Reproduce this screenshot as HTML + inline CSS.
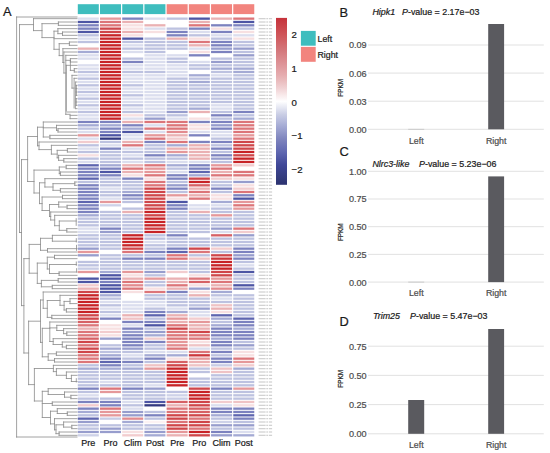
<!DOCTYPE html>
<html><head><meta charset="utf-8"><style>
html,body{margin:0;padding:0;background:#fff;}
body{width:550px;height:453px;overflow:hidden;font-family:"Liberation Sans", sans-serif;}
svg{display:block;}
</style></head><body>
<svg width="550" height="453" viewBox="0 0 550 453" font-family='"Liberation Sans", sans-serif'>
<defs><linearGradient id="cb" x1="0" y1="0" x2="0" y2="1"><stop offset="0.000" stop-color="#c6323a"/><stop offset="0.020" stop-color="#c73941"/><stop offset="0.040" stop-color="#c94047"/><stop offset="0.060" stop-color="#cb474d"/><stop offset="0.080" stop-color="#cd4e53"/><stop offset="0.100" stop-color="#cf5559"/><stop offset="0.120" stop-color="#d05c60"/><stop offset="0.140" stop-color="#d16367"/><stop offset="0.160" stop-color="#d26b6f"/><stop offset="0.180" stop-color="#d37276"/><stop offset="0.200" stop-color="#d4797d"/><stop offset="0.220" stop-color="#d78084"/><stop offset="0.240" stop-color="#d9878b"/><stop offset="0.260" stop-color="#dc8e92"/><stop offset="0.280" stop-color="#de9599"/><stop offset="0.300" stop-color="#e09ca0"/><stop offset="0.320" stop-color="#e3a4a7"/><stop offset="0.340" stop-color="#e5abae"/><stop offset="0.360" stop-color="#e7b4b6"/><stop offset="0.380" stop-color="#eabdbf"/><stop offset="0.400" stop-color="#edc7c9"/><stop offset="0.420" stop-color="#f0d1d3"/><stop offset="0.440" stop-color="#f4dcde"/><stop offset="0.460" stop-color="#f8e8e9"/><stop offset="0.480" stop-color="#fbf3f4"/><stop offset="0.500" stop-color="#ffffff"/><stop offset="0.520" stop-color="#f1f2f8"/><stop offset="0.540" stop-color="#e4e6f2"/><stop offset="0.560" stop-color="#d6d9eb"/><stop offset="0.580" stop-color="#c9cde4"/><stop offset="0.600" stop-color="#bec3e0"/><stop offset="0.620" stop-color="#b4b9db"/><stop offset="0.640" stop-color="#a9afd6"/><stop offset="0.660" stop-color="#9fa5d1"/><stop offset="0.680" stop-color="#959bcb"/><stop offset="0.700" stop-color="#8b91c5"/><stop offset="0.720" stop-color="#8187bf"/><stop offset="0.740" stop-color="#797fbb"/><stop offset="0.760" stop-color="#7178b8"/><stop offset="0.780" stop-color="#6970b5"/><stop offset="0.800" stop-color="#6169b1"/><stop offset="0.820" stop-color="#5961ac"/><stop offset="0.840" stop-color="#5159a5"/><stop offset="0.860" stop-color="#48509e"/><stop offset="0.880" stop-color="#404898"/><stop offset="0.900" stop-color="#3c4491"/><stop offset="0.920" stop-color="#394189"/><stop offset="0.940" stop-color="#363e82"/><stop offset="0.960" stop-color="#333b7b"/><stop offset="0.980" stop-color="#2f3675"/><stop offset="1.000" stop-color="#2c3270"/></linearGradient></defs>
<rect width="550" height="453" fill="#fff"/>
<g><rect x="77.80" y="4.2" width="21.00" height="9.9" fill="#3ebdbe"/><rect x="100.01" y="4.2" width="21.00" height="9.9" fill="#3ebdbe"/><rect x="122.22" y="4.2" width="21.00" height="9.9" fill="#3ebdbe"/><rect x="144.43" y="4.2" width="21.00" height="9.9" fill="#3ebdbe"/><rect x="166.64" y="4.2" width="21.00" height="9.9" fill="#f2847e"/><rect x="188.85" y="4.2" width="21.00" height="9.9" fill="#f2847e"/><rect x="211.06" y="4.2" width="21.00" height="9.9" fill="#f2847e"/><rect x="233.27" y="4.2" width="21.00" height="9.9" fill="#f2847e"/></g>
<g><rect x="77.80" y="17.50" width="21.00" height="2.30" fill="#dbdeee"/><rect x="100.01" y="17.50" width="21.00" height="2.30" fill="#e5989a"/><rect x="122.22" y="17.50" width="21.00" height="2.30" fill="#7c82bf"/><rect x="144.43" y="17.50" width="21.00" height="2.30" fill="#dbdeee"/><rect x="166.64" y="17.50" width="21.00" height="2.30" fill="#bdc2e0"/><rect x="188.85" y="17.50" width="21.00" height="2.30" fill="#4d55a4"/><rect x="211.06" y="17.50" width="21.00" height="2.30" fill="#eab1b3"/><rect x="233.27" y="17.50" width="21.00" height="2.30" fill="#dc7579"/><rect x="77.80" y="20.83" width="21.00" height="2.30" fill="#4d55a4"/><rect x="100.01" y="20.83" width="21.00" height="2.30" fill="#dc7579"/><rect x="122.22" y="20.83" width="21.00" height="2.30" fill="#eab1b3"/><rect x="144.43" y="20.83" width="21.00" height="2.30" fill="#ffffff"/><rect x="166.64" y="20.83" width="21.00" height="2.30" fill="#ffffff"/><rect x="188.85" y="20.83" width="21.00" height="2.30" fill="#eab1b3"/><rect x="211.06" y="20.83" width="21.00" height="2.30" fill="#ffffff"/><rect x="233.27" y="20.83" width="21.00" height="2.30" fill="#4d55a4"/><rect x="77.80" y="24.17" width="21.00" height="2.30" fill="#7c82bf"/><rect x="100.01" y="24.17" width="21.00" height="2.30" fill="#dc7579"/><rect x="122.22" y="24.17" width="21.00" height="2.30" fill="#f7e0e1"/><rect x="144.43" y="24.17" width="21.00" height="2.30" fill="#eab1b3"/><rect x="166.64" y="24.17" width="21.00" height="2.30" fill="#ffffff"/><rect x="188.85" y="24.17" width="21.00" height="2.30" fill="#dc7579"/><rect x="211.06" y="24.17" width="21.00" height="2.30" fill="#7c82bf"/><rect x="233.27" y="24.17" width="21.00" height="2.30" fill="#7c82bf"/><rect x="77.80" y="27.50" width="21.00" height="2.30" fill="#7c82bf"/><rect x="100.01" y="27.50" width="21.00" height="2.30" fill="#cf464a"/><rect x="122.22" y="27.50" width="21.00" height="2.30" fill="#f7e0e1"/><rect x="144.43" y="27.50" width="21.00" height="2.30" fill="#dbdeee"/><rect x="166.64" y="27.50" width="21.00" height="2.30" fill="#bdc2e0"/><rect x="188.85" y="27.50" width="21.00" height="2.30" fill="#7c82bf"/><rect x="211.06" y="27.50" width="21.00" height="2.30" fill="#f7e0e1"/><rect x="233.27" y="27.50" width="21.00" height="2.30" fill="#bdc2e0"/><rect x="77.80" y="30.83" width="21.00" height="2.30" fill="#4d55a4"/><rect x="100.01" y="30.83" width="21.00" height="2.30" fill="#cf464a"/><rect x="122.22" y="30.83" width="21.00" height="2.30" fill="#eab1b3"/><rect x="144.43" y="30.83" width="21.00" height="2.30" fill="#f7e0e1"/><rect x="166.64" y="30.83" width="21.00" height="2.30" fill="#7c82bf"/><rect x="188.85" y="30.83" width="21.00" height="2.30" fill="#dbdeee"/><rect x="211.06" y="30.83" width="21.00" height="2.30" fill="#7c82bf"/><rect x="233.27" y="30.83" width="21.00" height="2.30" fill="#f7e0e1"/><rect x="77.80" y="34.17" width="21.00" height="2.30" fill="#bdc2e0"/><rect x="100.01" y="34.17" width="21.00" height="2.30" fill="#c72327"/><rect x="122.22" y="34.17" width="21.00" height="2.30" fill="#f7e0e1"/><rect x="144.43" y="34.17" width="21.00" height="2.30" fill="#ffffff"/><rect x="166.64" y="34.17" width="21.00" height="2.30" fill="#7c82bf"/><rect x="188.85" y="34.17" width="21.00" height="2.30" fill="#bdc2e0"/><rect x="211.06" y="34.17" width="21.00" height="2.30" fill="#dbdeee"/><rect x="233.27" y="34.17" width="21.00" height="2.30" fill="#dbdeee"/><rect x="77.80" y="37.50" width="21.00" height="2.30" fill="#dbdeee"/><rect x="100.01" y="37.50" width="21.00" height="2.30" fill="#c72327"/><rect x="122.22" y="37.50" width="21.00" height="2.30" fill="#4d55a4"/><rect x="144.43" y="37.50" width="21.00" height="2.30" fill="#bdc2e0"/><rect x="166.64" y="37.50" width="21.00" height="2.30" fill="#eab1b3"/><rect x="188.85" y="37.50" width="21.00" height="2.30" fill="#f7e0e1"/><rect x="211.06" y="37.50" width="21.00" height="2.30" fill="#bdc2e0"/><rect x="233.27" y="37.50" width="21.00" height="2.30" fill="#f7e0e1"/><rect x="77.80" y="40.83" width="21.00" height="2.30" fill="#bdc2e0"/><rect x="100.01" y="40.83" width="21.00" height="2.30" fill="#c72327"/><rect x="122.22" y="40.83" width="21.00" height="2.30" fill="#bdc2e0"/><rect x="144.43" y="40.83" width="21.00" height="2.30" fill="#bdc2e0"/><rect x="166.64" y="40.83" width="21.00" height="2.30" fill="#bdc2e0"/><rect x="188.85" y="40.83" width="21.00" height="2.30" fill="#dc7579"/><rect x="211.06" y="40.83" width="21.00" height="2.30" fill="#7c82bf"/><rect x="233.27" y="40.83" width="21.00" height="2.30" fill="#bdc2e0"/><rect x="77.80" y="44.17" width="21.00" height="2.30" fill="#ffffff"/><rect x="100.01" y="44.17" width="21.00" height="2.30" fill="#c72327"/><rect x="122.22" y="44.17" width="21.00" height="2.30" fill="#dbdeee"/><rect x="144.43" y="44.17" width="21.00" height="2.30" fill="#bdc2e0"/><rect x="166.64" y="44.17" width="21.00" height="2.30" fill="#bdc2e0"/><rect x="188.85" y="44.17" width="21.00" height="2.30" fill="#eab1b3"/><rect x="211.06" y="44.17" width="21.00" height="2.30" fill="#7c82bf"/><rect x="233.27" y="44.17" width="21.00" height="2.30" fill="#bdc2e0"/><rect x="77.80" y="47.50" width="21.00" height="2.30" fill="#eab1b3"/><rect x="100.01" y="47.50" width="21.00" height="2.30" fill="#c72327"/><rect x="122.22" y="47.50" width="21.00" height="2.30" fill="#bdc2e0"/><rect x="144.43" y="47.50" width="21.00" height="2.30" fill="#bdc2e0"/><rect x="166.64" y="47.50" width="21.00" height="2.30" fill="#bdc2e0"/><rect x="188.85" y="47.50" width="21.00" height="2.30" fill="#dbdeee"/><rect x="211.06" y="47.50" width="21.00" height="2.30" fill="#979dcd"/><rect x="233.27" y="47.50" width="21.00" height="2.30" fill="#979dcd"/><rect x="77.80" y="50.83" width="21.00" height="2.30" fill="#a4aad4"/><rect x="100.01" y="50.83" width="21.00" height="2.30" fill="#c72327"/><rect x="122.22" y="50.83" width="21.00" height="2.30" fill="#dbdeee"/><rect x="144.43" y="50.83" width="21.00" height="2.30" fill="#bdc2e0"/><rect x="166.64" y="50.83" width="21.00" height="2.30" fill="#ffffff"/><rect x="188.85" y="50.83" width="21.00" height="2.30" fill="#f7e0e1"/><rect x="211.06" y="50.83" width="21.00" height="2.30" fill="#7c82bf"/><rect x="233.27" y="50.83" width="21.00" height="2.30" fill="#bdc2e0"/><rect x="77.80" y="54.17" width="21.00" height="2.30" fill="#dbdeee"/><rect x="100.01" y="54.17" width="21.00" height="2.30" fill="#c72327"/><rect x="122.22" y="54.17" width="21.00" height="2.30" fill="#ffffff"/><rect x="144.43" y="54.17" width="21.00" height="2.30" fill="#dbdeee"/><rect x="166.64" y="54.17" width="21.00" height="2.30" fill="#dbdeee"/><rect x="188.85" y="54.17" width="21.00" height="2.30" fill="#7c82bf"/><rect x="211.06" y="54.17" width="21.00" height="2.30" fill="#ffffff"/><rect x="233.27" y="54.17" width="21.00" height="2.30" fill="#979dcd"/><rect x="77.80" y="57.50" width="21.00" height="2.30" fill="#dbdeee"/><rect x="100.01" y="57.50" width="21.00" height="2.30" fill="#c72327"/><rect x="122.22" y="57.50" width="21.00" height="2.30" fill="#bdc2e0"/><rect x="144.43" y="57.50" width="21.00" height="2.30" fill="#dbdeee"/><rect x="166.64" y="57.50" width="21.00" height="2.30" fill="#bdc2e0"/><rect x="188.85" y="57.50" width="21.00" height="2.30" fill="#ffffff"/><rect x="211.06" y="57.50" width="21.00" height="2.30" fill="#bdc2e0"/><rect x="233.27" y="57.50" width="21.00" height="2.30" fill="#bdc2e0"/><rect x="77.80" y="60.83" width="21.00" height="2.30" fill="#ffffff"/><rect x="100.01" y="60.83" width="21.00" height="2.30" fill="#c72327"/><rect x="122.22" y="60.83" width="21.00" height="2.30" fill="#7c82bf"/><rect x="144.43" y="60.83" width="21.00" height="2.30" fill="#dbdeee"/><rect x="166.64" y="60.83" width="21.00" height="2.30" fill="#bdc2e0"/><rect x="188.85" y="60.83" width="21.00" height="2.30" fill="#dbdeee"/><rect x="211.06" y="60.83" width="21.00" height="2.30" fill="#979dcd"/><rect x="233.27" y="60.83" width="21.00" height="2.30" fill="#bdc2e0"/><rect x="77.80" y="64.17" width="21.00" height="2.30" fill="#dbdeee"/><rect x="100.01" y="64.17" width="21.00" height="2.30" fill="#c72327"/><rect x="122.22" y="64.17" width="21.00" height="2.30" fill="#dbdeee"/><rect x="144.43" y="64.17" width="21.00" height="2.30" fill="#dbdeee"/><rect x="166.64" y="64.17" width="21.00" height="2.30" fill="#dbdeee"/><rect x="188.85" y="64.17" width="21.00" height="2.30" fill="#bdc2e0"/><rect x="211.06" y="64.17" width="21.00" height="2.30" fill="#bdc2e0"/><rect x="233.27" y="64.17" width="21.00" height="2.30" fill="#bdc2e0"/><rect x="77.80" y="67.50" width="21.00" height="2.30" fill="#dbdeee"/><rect x="100.01" y="67.50" width="21.00" height="2.30" fill="#c72327"/><rect x="122.22" y="67.50" width="21.00" height="2.30" fill="#dbdeee"/><rect x="144.43" y="67.50" width="21.00" height="2.30" fill="#dbdeee"/><rect x="166.64" y="67.50" width="21.00" height="2.30" fill="#dbdeee"/><rect x="188.85" y="67.50" width="21.00" height="2.30" fill="#bdc2e0"/><rect x="211.06" y="67.50" width="21.00" height="2.30" fill="#a4aad4"/><rect x="233.27" y="67.50" width="21.00" height="2.30" fill="#a4aad4"/><rect x="77.80" y="70.83" width="21.00" height="2.30" fill="#bdc2e0"/><rect x="100.01" y="70.83" width="21.00" height="2.30" fill="#c72327"/><rect x="122.22" y="70.83" width="21.00" height="2.30" fill="#bdc2e0"/><rect x="144.43" y="70.83" width="21.00" height="2.30" fill="#bdc2e0"/><rect x="166.64" y="70.83" width="21.00" height="2.30" fill="#dbdeee"/><rect x="188.85" y="70.83" width="21.00" height="2.30" fill="#ffffff"/><rect x="211.06" y="70.83" width="21.00" height="2.30" fill="#bdc2e0"/><rect x="233.27" y="70.83" width="21.00" height="2.30" fill="#a4aad4"/><rect x="77.80" y="74.17" width="21.00" height="2.30" fill="#dbdeee"/><rect x="100.01" y="74.17" width="21.00" height="2.30" fill="#c72327"/><rect x="122.22" y="74.17" width="21.00" height="2.30" fill="#dbdeee"/><rect x="144.43" y="74.17" width="21.00" height="2.30" fill="#dbdeee"/><rect x="166.64" y="74.17" width="21.00" height="2.30" fill="#dbdeee"/><rect x="188.85" y="74.17" width="21.00" height="2.30" fill="#a4aad4"/><rect x="211.06" y="74.17" width="21.00" height="2.30" fill="#dbdeee"/><rect x="233.27" y="74.17" width="21.00" height="2.30" fill="#bdc2e0"/><rect x="77.80" y="77.50" width="21.00" height="2.30" fill="#bdc2e0"/><rect x="100.01" y="77.50" width="21.00" height="2.30" fill="#c72327"/><rect x="122.22" y="77.50" width="21.00" height="2.30" fill="#dbdeee"/><rect x="144.43" y="77.50" width="21.00" height="2.30" fill="#dbdeee"/><rect x="166.64" y="77.50" width="21.00" height="2.30" fill="#bdc2e0"/><rect x="188.85" y="77.50" width="21.00" height="2.30" fill="#bdc2e0"/><rect x="211.06" y="77.50" width="21.00" height="2.30" fill="#bdc2e0"/><rect x="233.27" y="77.50" width="21.00" height="2.30" fill="#bdc2e0"/><rect x="77.80" y="80.83" width="21.00" height="2.30" fill="#dbdeee"/><rect x="100.01" y="80.83" width="21.00" height="2.30" fill="#c72327"/><rect x="122.22" y="80.83" width="21.00" height="2.30" fill="#dbdeee"/><rect x="144.43" y="80.83" width="21.00" height="2.30" fill="#dbdeee"/><rect x="166.64" y="80.83" width="21.00" height="2.30" fill="#bdc2e0"/><rect x="188.85" y="80.83" width="21.00" height="2.30" fill="#a4aad4"/><rect x="211.06" y="80.83" width="21.00" height="2.30" fill="#bdc2e0"/><rect x="233.27" y="80.83" width="21.00" height="2.30" fill="#bdc2e0"/><rect x="77.80" y="84.17" width="21.00" height="2.30" fill="#bdc2e0"/><rect x="100.01" y="84.17" width="21.00" height="2.30" fill="#c72327"/><rect x="122.22" y="84.17" width="21.00" height="2.30" fill="#bdc2e0"/><rect x="144.43" y="84.17" width="21.00" height="2.30" fill="#dbdeee"/><rect x="166.64" y="84.17" width="21.00" height="2.30" fill="#bdc2e0"/><rect x="188.85" y="84.17" width="21.00" height="2.30" fill="#bdc2e0"/><rect x="211.06" y="84.17" width="21.00" height="2.30" fill="#bdc2e0"/><rect x="233.27" y="84.17" width="21.00" height="2.30" fill="#bdc2e0"/><rect x="77.80" y="87.50" width="21.00" height="2.30" fill="#dbdeee"/><rect x="100.01" y="87.50" width="21.00" height="2.30" fill="#c72327"/><rect x="122.22" y="87.50" width="21.00" height="2.30" fill="#dbdeee"/><rect x="144.43" y="87.50" width="21.00" height="2.30" fill="#dbdeee"/><rect x="166.64" y="87.50" width="21.00" height="2.30" fill="#bdc2e0"/><rect x="188.85" y="87.50" width="21.00" height="2.30" fill="#bdc2e0"/><rect x="211.06" y="87.50" width="21.00" height="2.30" fill="#bdc2e0"/><rect x="233.27" y="87.50" width="21.00" height="2.30" fill="#bdc2e0"/><rect x="77.80" y="90.83" width="21.00" height="2.30" fill="#bdc2e0"/><rect x="100.01" y="90.83" width="21.00" height="2.30" fill="#c72327"/><rect x="122.22" y="90.83" width="21.00" height="2.30" fill="#dbdeee"/><rect x="144.43" y="90.83" width="21.00" height="2.30" fill="#dbdeee"/><rect x="166.64" y="90.83" width="21.00" height="2.30" fill="#bdc2e0"/><rect x="188.85" y="90.83" width="21.00" height="2.30" fill="#bdc2e0"/><rect x="211.06" y="90.83" width="21.00" height="2.30" fill="#bdc2e0"/><rect x="233.27" y="90.83" width="21.00" height="2.30" fill="#bdc2e0"/><rect x="77.80" y="94.17" width="21.00" height="2.30" fill="#dbdeee"/><rect x="100.01" y="94.17" width="21.00" height="2.30" fill="#c72327"/><rect x="122.22" y="94.17" width="21.00" height="2.30" fill="#bdc2e0"/><rect x="144.43" y="94.17" width="21.00" height="2.30" fill="#dbdeee"/><rect x="166.64" y="94.17" width="21.00" height="2.30" fill="#bdc2e0"/><rect x="188.85" y="94.17" width="21.00" height="2.30" fill="#bdc2e0"/><rect x="211.06" y="94.17" width="21.00" height="2.30" fill="#bdc2e0"/><rect x="233.27" y="94.17" width="21.00" height="2.30" fill="#bdc2e0"/><rect x="77.80" y="97.50" width="21.00" height="2.30" fill="#bdc2e0"/><rect x="100.01" y="97.50" width="21.00" height="2.30" fill="#c72327"/><rect x="122.22" y="97.50" width="21.00" height="2.30" fill="#dbdeee"/><rect x="144.43" y="97.50" width="21.00" height="2.30" fill="#dbdeee"/><rect x="166.64" y="97.50" width="21.00" height="2.30" fill="#bdc2e0"/><rect x="188.85" y="97.50" width="21.00" height="2.30" fill="#bdc2e0"/><rect x="211.06" y="97.50" width="21.00" height="2.30" fill="#bdc2e0"/><rect x="233.27" y="97.50" width="21.00" height="2.30" fill="#bdc2e0"/><rect x="77.80" y="100.83" width="21.00" height="2.30" fill="#dbdeee"/><rect x="100.01" y="100.83" width="21.00" height="2.30" fill="#c72327"/><rect x="122.22" y="100.83" width="21.00" height="2.30" fill="#dbdeee"/><rect x="144.43" y="100.83" width="21.00" height="2.30" fill="#dbdeee"/><rect x="166.64" y="100.83" width="21.00" height="2.30" fill="#bdc2e0"/><rect x="188.85" y="100.83" width="21.00" height="2.30" fill="#bdc2e0"/><rect x="211.06" y="100.83" width="21.00" height="2.30" fill="#bdc2e0"/><rect x="233.27" y="100.83" width="21.00" height="2.30" fill="#bdc2e0"/><rect x="77.80" y="104.17" width="21.00" height="2.30" fill="#bdc2e0"/><rect x="100.01" y="104.17" width="21.00" height="2.30" fill="#c72327"/><rect x="122.22" y="104.17" width="21.00" height="2.30" fill="#bdc2e0"/><rect x="144.43" y="104.17" width="21.00" height="2.30" fill="#dbdeee"/><rect x="166.64" y="104.17" width="21.00" height="2.30" fill="#bdc2e0"/><rect x="188.85" y="104.17" width="21.00" height="2.30" fill="#bdc2e0"/><rect x="211.06" y="104.17" width="21.00" height="2.30" fill="#dbdeee"/><rect x="233.27" y="104.17" width="21.00" height="2.30" fill="#bdc2e0"/><rect x="77.80" y="107.50" width="21.00" height="2.30" fill="#dbdeee"/><rect x="100.01" y="107.50" width="21.00" height="2.30" fill="#c72327"/><rect x="122.22" y="107.50" width="21.00" height="2.30" fill="#dbdeee"/><rect x="144.43" y="107.50" width="21.00" height="2.30" fill="#dbdeee"/><rect x="166.64" y="107.50" width="21.00" height="2.30" fill="#bdc2e0"/><rect x="188.85" y="107.50" width="21.00" height="2.30" fill="#a4aad4"/><rect x="211.06" y="107.50" width="21.00" height="2.30" fill="#dbdeee"/><rect x="233.27" y="107.50" width="21.00" height="2.30" fill="#bdc2e0"/><rect x="77.80" y="110.83" width="21.00" height="2.30" fill="#bdc2e0"/><rect x="100.01" y="110.83" width="21.00" height="2.30" fill="#c72327"/><rect x="122.22" y="110.83" width="21.00" height="2.30" fill="#bdc2e0"/><rect x="144.43" y="110.83" width="21.00" height="2.30" fill="#dbdeee"/><rect x="166.64" y="110.83" width="21.00" height="2.30" fill="#979dcd"/><rect x="188.85" y="110.83" width="21.00" height="2.30" fill="#eab1b3"/><rect x="211.06" y="110.83" width="21.00" height="2.30" fill="#bdc2e0"/><rect x="233.27" y="110.83" width="21.00" height="2.30" fill="#7c82bf"/><rect x="77.80" y="114.17" width="21.00" height="2.30" fill="#dbdeee"/><rect x="100.01" y="114.17" width="21.00" height="2.30" fill="#c72327"/><rect x="122.22" y="114.17" width="21.00" height="2.30" fill="#f7e0e1"/><rect x="144.43" y="114.17" width="21.00" height="2.30" fill="#bdc2e0"/><rect x="166.64" y="114.17" width="21.00" height="2.30" fill="#bdc2e0"/><rect x="188.85" y="114.17" width="21.00" height="2.30" fill="#ffffff"/><rect x="211.06" y="114.17" width="21.00" height="2.30" fill="#7c82bf"/><rect x="233.27" y="114.17" width="21.00" height="2.30" fill="#bdc2e0"/><rect x="77.80" y="117.50" width="21.00" height="2.30" fill="#dbdeee"/><rect x="100.01" y="117.50" width="21.00" height="2.30" fill="#c72327"/><rect x="122.22" y="117.50" width="21.00" height="2.30" fill="#dbdeee"/><rect x="144.43" y="117.50" width="21.00" height="2.30" fill="#979dcd"/><rect x="166.64" y="117.50" width="21.00" height="2.30" fill="#dbdeee"/><rect x="188.85" y="117.50" width="21.00" height="2.30" fill="#f7e0e1"/><rect x="211.06" y="117.50" width="21.00" height="2.30" fill="#bdc2e0"/><rect x="233.27" y="117.50" width="21.00" height="2.30" fill="#a4aad4"/><rect x="77.80" y="120.83" width="21.00" height="2.30" fill="#7c82bf"/><rect x="100.01" y="120.83" width="21.00" height="2.30" fill="#7c82bf"/><rect x="122.22" y="120.83" width="21.00" height="2.30" fill="#eab1b3"/><rect x="144.43" y="120.83" width="21.00" height="2.30" fill="#dc7579"/><rect x="166.64" y="120.83" width="21.00" height="2.30" fill="#dc7579"/><rect x="188.85" y="120.83" width="21.00" height="2.30" fill="#7c82bf"/><rect x="211.06" y="120.83" width="21.00" height="2.30" fill="#7c82bf"/><rect x="233.27" y="120.83" width="21.00" height="2.30" fill="#dc7579"/><rect x="77.80" y="124.17" width="21.00" height="2.30" fill="#a4aad4"/><rect x="100.01" y="124.17" width="21.00" height="2.30" fill="#a4aad4"/><rect x="122.22" y="124.17" width="21.00" height="2.30" fill="#7c82bf"/><rect x="144.43" y="124.17" width="21.00" height="2.30" fill="#dbdeee"/><rect x="166.64" y="124.17" width="21.00" height="2.30" fill="#dc7579"/><rect x="188.85" y="124.17" width="21.00" height="2.30" fill="#f7e0e1"/><rect x="211.06" y="124.17" width="21.00" height="2.30" fill="#979dcd"/><rect x="233.27" y="124.17" width="21.00" height="2.30" fill="#dc7579"/><rect x="77.80" y="127.50" width="21.00" height="2.30" fill="#bdc2e0"/><rect x="100.01" y="127.50" width="21.00" height="2.30" fill="#7c82bf"/><rect x="122.22" y="127.50" width="21.00" height="2.30" fill="#a4aad4"/><rect x="144.43" y="127.50" width="21.00" height="2.30" fill="#dc7579"/><rect x="166.64" y="127.50" width="21.00" height="2.30" fill="#dc7579"/><rect x="188.85" y="127.50" width="21.00" height="2.30" fill="#f7e0e1"/><rect x="211.06" y="127.50" width="21.00" height="2.30" fill="#7c82bf"/><rect x="233.27" y="127.50" width="21.00" height="2.30" fill="#dc7579"/><rect x="77.80" y="130.83" width="21.00" height="2.30" fill="#dbdeee"/><rect x="100.01" y="130.83" width="21.00" height="2.30" fill="#7c82bf"/><rect x="122.22" y="130.83" width="21.00" height="2.30" fill="#4d55a4"/><rect x="144.43" y="130.83" width="21.00" height="2.30" fill="#dbdeee"/><rect x="166.64" y="130.83" width="21.00" height="2.30" fill="#e28b8f"/><rect x="188.85" y="130.83" width="21.00" height="2.30" fill="#dbdeee"/><rect x="211.06" y="130.83" width="21.00" height="2.30" fill="#dbdeee"/><rect x="233.27" y="130.83" width="21.00" height="2.30" fill="#dc7579"/><rect x="77.80" y="134.17" width="21.00" height="2.30" fill="#e5989a"/><rect x="100.01" y="134.17" width="21.00" height="2.30" fill="#4d55a4"/><rect x="122.22" y="134.17" width="21.00" height="2.30" fill="#dbdeee"/><rect x="144.43" y="134.17" width="21.00" height="2.30" fill="#e5989a"/><rect x="166.64" y="134.17" width="21.00" height="2.30" fill="#eab1b3"/><rect x="188.85" y="134.17" width="21.00" height="2.30" fill="#7c82bf"/><rect x="211.06" y="134.17" width="21.00" height="2.30" fill="#dbdeee"/><rect x="233.27" y="134.17" width="21.00" height="2.30" fill="#e5989a"/><rect x="77.80" y="137.50" width="21.00" height="2.30" fill="#dbdeee"/><rect x="100.01" y="137.50" width="21.00" height="2.30" fill="#333980"/><rect x="122.22" y="137.50" width="21.00" height="2.30" fill="#dbdeee"/><rect x="144.43" y="137.50" width="21.00" height="2.30" fill="#dc7579"/><rect x="166.64" y="137.50" width="21.00" height="2.30" fill="#f2ccce"/><rect x="188.85" y="137.50" width="21.00" height="2.30" fill="#ffffff"/><rect x="211.06" y="137.50" width="21.00" height="2.30" fill="#bdc2e0"/><rect x="233.27" y="137.50" width="21.00" height="2.30" fill="#dc7579"/><rect x="77.80" y="140.83" width="21.00" height="2.30" fill="#f2ccce"/><rect x="100.01" y="140.83" width="21.00" height="2.30" fill="#bdc2e0"/><rect x="122.22" y="140.83" width="21.00" height="2.30" fill="#eab1b3"/><rect x="144.43" y="140.83" width="21.00" height="2.30" fill="#7c82bf"/><rect x="166.64" y="140.83" width="21.00" height="2.30" fill="#dc7579"/><rect x="188.85" y="140.83" width="21.00" height="2.30" fill="#7c82bf"/><rect x="211.06" y="140.83" width="21.00" height="2.30" fill="#7c82bf"/><rect x="233.27" y="140.83" width="21.00" height="2.30" fill="#cf464a"/><rect x="77.80" y="144.17" width="21.00" height="2.30" fill="#bdc2e0"/><rect x="100.01" y="144.17" width="21.00" height="2.30" fill="#dbdeee"/><rect x="122.22" y="144.17" width="21.00" height="2.30" fill="#dc7579"/><rect x="144.43" y="144.17" width="21.00" height="2.30" fill="#bdc2e0"/><rect x="166.64" y="144.17" width="21.00" height="2.30" fill="#a4aad4"/><rect x="188.85" y="144.17" width="21.00" height="2.30" fill="#eab1b3"/><rect x="211.06" y="144.17" width="21.00" height="2.30" fill="#bdc2e0"/><rect x="233.27" y="144.17" width="21.00" height="2.30" fill="#cf464a"/><rect x="77.80" y="147.50" width="21.00" height="2.30" fill="#dbdeee"/><rect x="100.01" y="147.50" width="21.00" height="2.30" fill="#7c82bf"/><rect x="122.22" y="147.50" width="21.00" height="2.30" fill="#dbdeee"/><rect x="144.43" y="147.50" width="21.00" height="2.30" fill="#bdc2e0"/><rect x="166.64" y="147.50" width="21.00" height="2.30" fill="#eab1b3"/><rect x="188.85" y="147.50" width="21.00" height="2.30" fill="#eab1b3"/><rect x="211.06" y="147.50" width="21.00" height="2.30" fill="#7c82bf"/><rect x="233.27" y="147.50" width="21.00" height="2.30" fill="#cf464a"/><rect x="77.80" y="150.83" width="21.00" height="2.30" fill="#bdc2e0"/><rect x="100.01" y="150.83" width="21.00" height="2.30" fill="#bdc2e0"/><rect x="122.22" y="150.83" width="21.00" height="2.30" fill="#bdc2e0"/><rect x="144.43" y="150.83" width="21.00" height="2.30" fill="#bdc2e0"/><rect x="166.64" y="150.83" width="21.00" height="2.30" fill="#e5989a"/><rect x="188.85" y="150.83" width="21.00" height="2.30" fill="#eab1b3"/><rect x="211.06" y="150.83" width="21.00" height="2.30" fill="#bdc2e0"/><rect x="233.27" y="150.83" width="21.00" height="2.30" fill="#c72327"/><rect x="77.80" y="154.17" width="21.00" height="2.30" fill="#f7e0e1"/><rect x="100.01" y="154.17" width="21.00" height="2.30" fill="#bdc2e0"/><rect x="122.22" y="154.17" width="21.00" height="2.30" fill="#dbdeee"/><rect x="144.43" y="154.17" width="21.00" height="2.30" fill="#7c82bf"/><rect x="166.64" y="154.17" width="21.00" height="2.30" fill="#a4aad4"/><rect x="188.85" y="154.17" width="21.00" height="2.30" fill="#eab1b3"/><rect x="211.06" y="154.17" width="21.00" height="2.30" fill="#7c82bf"/><rect x="233.27" y="154.17" width="21.00" height="2.30" fill="#cf464a"/><rect x="77.80" y="157.50" width="21.00" height="2.30" fill="#bdc2e0"/><rect x="100.01" y="157.50" width="21.00" height="2.30" fill="#bdc2e0"/><rect x="122.22" y="157.50" width="21.00" height="2.30" fill="#bdc2e0"/><rect x="144.43" y="157.50" width="21.00" height="2.30" fill="#bdc2e0"/><rect x="166.64" y="157.50" width="21.00" height="2.30" fill="#bdc2e0"/><rect x="188.85" y="157.50" width="21.00" height="2.30" fill="#eab1b3"/><rect x="211.06" y="157.50" width="21.00" height="2.30" fill="#979dcd"/><rect x="233.27" y="157.50" width="21.00" height="2.30" fill="#c72327"/><rect x="77.80" y="160.83" width="21.00" height="2.30" fill="#dbdeee"/><rect x="100.01" y="160.83" width="21.00" height="2.30" fill="#bdc2e0"/><rect x="122.22" y="160.83" width="21.00" height="2.30" fill="#dbdeee"/><rect x="144.43" y="160.83" width="21.00" height="2.30" fill="#bdc2e0"/><rect x="166.64" y="160.83" width="21.00" height="2.30" fill="#dbdeee"/><rect x="188.85" y="160.83" width="21.00" height="2.30" fill="#dbdeee"/><rect x="211.06" y="160.83" width="21.00" height="2.30" fill="#bdc2e0"/><rect x="233.27" y="160.83" width="21.00" height="2.30" fill="#c72327"/><rect x="77.80" y="164.17" width="21.00" height="2.30" fill="#5e65af"/><rect x="100.01" y="164.17" width="21.00" height="2.30" fill="#a4aad4"/><rect x="122.22" y="164.17" width="21.00" height="2.30" fill="#eab1b3"/><rect x="144.43" y="164.17" width="21.00" height="2.30" fill="#dc7579"/><rect x="166.64" y="164.17" width="21.00" height="2.30" fill="#a4aad4"/><rect x="188.85" y="164.17" width="21.00" height="2.30" fill="#7c82bf"/><rect x="211.06" y="164.17" width="21.00" height="2.30" fill="#e5989a"/><rect x="233.27" y="164.17" width="21.00" height="2.30" fill="#f2ccce"/><rect x="77.80" y="167.50" width="21.00" height="2.30" fill="#7c82bf"/><rect x="100.01" y="167.50" width="21.00" height="2.30" fill="#7c82bf"/><rect x="122.22" y="167.50" width="21.00" height="2.30" fill="#dc7579"/><rect x="144.43" y="167.50" width="21.00" height="2.30" fill="#e5989a"/><rect x="166.64" y="167.50" width="21.00" height="2.30" fill="#bdc2e0"/><rect x="188.85" y="167.50" width="21.00" height="2.30" fill="#7c82bf"/><rect x="211.06" y="167.50" width="21.00" height="2.30" fill="#dc7579"/><rect x="233.27" y="167.50" width="21.00" height="2.30" fill="#ffffff"/><rect x="77.80" y="170.83" width="21.00" height="2.30" fill="#7c82bf"/><rect x="100.01" y="170.83" width="21.00" height="2.30" fill="#4d55a4"/><rect x="122.22" y="170.83" width="21.00" height="2.30" fill="#eab1b3"/><rect x="144.43" y="170.83" width="21.00" height="2.30" fill="#e5989a"/><rect x="166.64" y="170.83" width="21.00" height="2.30" fill="#dbdeee"/><rect x="188.85" y="170.83" width="21.00" height="2.30" fill="#5e65af"/><rect x="211.06" y="170.83" width="21.00" height="2.30" fill="#eab1b3"/><rect x="233.27" y="170.83" width="21.00" height="2.30" fill="#dc7579"/><rect x="77.80" y="174.17" width="21.00" height="2.30" fill="#7c82bf"/><rect x="100.01" y="174.17" width="21.00" height="2.30" fill="#7c82bf"/><rect x="122.22" y="174.17" width="21.00" height="2.30" fill="#f7e0e1"/><rect x="144.43" y="174.17" width="21.00" height="2.30" fill="#dc7579"/><rect x="166.64" y="174.17" width="21.00" height="2.30" fill="#7c82bf"/><rect x="188.85" y="174.17" width="21.00" height="2.30" fill="#a4aad4"/><rect x="211.06" y="174.17" width="21.00" height="2.30" fill="#dc7579"/><rect x="233.27" y="174.17" width="21.00" height="2.30" fill="#dc7579"/><rect x="77.80" y="177.50" width="21.00" height="2.30" fill="#5e65af"/><rect x="100.01" y="177.50" width="21.00" height="2.30" fill="#bdc2e0"/><rect x="122.22" y="177.50" width="21.00" height="2.30" fill="#7c82bf"/><rect x="144.43" y="177.50" width="21.00" height="2.30" fill="#f7e0e1"/><rect x="166.64" y="177.50" width="21.00" height="2.30" fill="#7c82bf"/><rect x="188.85" y="177.50" width="21.00" height="2.30" fill="#cf464a"/><rect x="211.06" y="177.50" width="21.00" height="2.30" fill="#f2ccce"/><rect x="233.27" y="177.50" width="21.00" height="2.30" fill="#f7e0e1"/><rect x="77.80" y="180.83" width="21.00" height="2.30" fill="#bdc2e0"/><rect x="100.01" y="180.83" width="21.00" height="2.30" fill="#bdc2e0"/><rect x="122.22" y="180.83" width="21.00" height="2.30" fill="#bdc2e0"/><rect x="144.43" y="180.83" width="21.00" height="2.30" fill="#dc7579"/><rect x="166.64" y="180.83" width="21.00" height="2.30" fill="#bdc2e0"/><rect x="188.85" y="180.83" width="21.00" height="2.30" fill="#c72327"/><rect x="211.06" y="180.83" width="21.00" height="2.30" fill="#bdc2e0"/><rect x="233.27" y="180.83" width="21.00" height="2.30" fill="#979dcd"/><rect x="77.80" y="184.17" width="21.00" height="2.30" fill="#7c82bf"/><rect x="100.01" y="184.17" width="21.00" height="2.30" fill="#bdc2e0"/><rect x="122.22" y="184.17" width="21.00" height="2.30" fill="#bdc2e0"/><rect x="144.43" y="184.17" width="21.00" height="2.30" fill="#dc7579"/><rect x="166.64" y="184.17" width="21.00" height="2.30" fill="#979dcd"/><rect x="188.85" y="184.17" width="21.00" height="2.30" fill="#d66165"/><rect x="211.06" y="184.17" width="21.00" height="2.30" fill="#bdc2e0"/><rect x="233.27" y="184.17" width="21.00" height="2.30" fill="#f7e0e1"/><rect x="77.80" y="187.50" width="21.00" height="2.30" fill="#7c82bf"/><rect x="100.01" y="187.50" width="21.00" height="2.30" fill="#dbdeee"/><rect x="122.22" y="187.50" width="21.00" height="2.30" fill="#bdc2e0"/><rect x="144.43" y="187.50" width="21.00" height="2.30" fill="#cf464a"/><rect x="166.64" y="187.50" width="21.00" height="2.30" fill="#7c82bf"/><rect x="188.85" y="187.50" width="21.00" height="2.30" fill="#eab1b3"/><rect x="211.06" y="187.50" width="21.00" height="2.30" fill="#7c82bf"/><rect x="233.27" y="187.50" width="21.00" height="2.30" fill="#f2ccce"/><rect x="77.80" y="190.83" width="21.00" height="2.30" fill="#7c82bf"/><rect x="100.01" y="190.83" width="21.00" height="2.30" fill="#bdc2e0"/><rect x="122.22" y="190.83" width="21.00" height="2.30" fill="#a4aad4"/><rect x="144.43" y="190.83" width="21.00" height="2.30" fill="#cf464a"/><rect x="166.64" y="190.83" width="21.00" height="2.30" fill="#bdc2e0"/><rect x="188.85" y="190.83" width="21.00" height="2.30" fill="#dc7579"/><rect x="211.06" y="190.83" width="21.00" height="2.30" fill="#bdc2e0"/><rect x="233.27" y="190.83" width="21.00" height="2.30" fill="#dc7579"/><rect x="77.80" y="194.17" width="21.00" height="2.30" fill="#7c82bf"/><rect x="100.01" y="194.17" width="21.00" height="2.30" fill="#bdc2e0"/><rect x="122.22" y="194.17" width="21.00" height="2.30" fill="#7c82bf"/><rect x="144.43" y="194.17" width="21.00" height="2.30" fill="#cf464a"/><rect x="166.64" y="194.17" width="21.00" height="2.30" fill="#e5989a"/><rect x="188.85" y="194.17" width="21.00" height="2.30" fill="#eab1b3"/><rect x="211.06" y="194.17" width="21.00" height="2.30" fill="#f7e0e1"/><rect x="233.27" y="194.17" width="21.00" height="2.30" fill="#7c82bf"/><rect x="77.80" y="197.50" width="21.00" height="2.30" fill="#7c82bf"/><rect x="100.01" y="197.50" width="21.00" height="2.30" fill="#dbdeee"/><rect x="122.22" y="197.50" width="21.00" height="2.30" fill="#979dcd"/><rect x="144.43" y="197.50" width="21.00" height="2.30" fill="#cf464a"/><rect x="166.64" y="197.50" width="21.00" height="2.30" fill="#f7e0e1"/><rect x="188.85" y="197.50" width="21.00" height="2.30" fill="#dc7579"/><rect x="211.06" y="197.50" width="21.00" height="2.30" fill="#f7e0e1"/><rect x="233.27" y="197.50" width="21.00" height="2.30" fill="#4d55a4"/><rect x="77.80" y="200.83" width="21.00" height="2.30" fill="#5e65af"/><rect x="100.01" y="200.83" width="21.00" height="2.30" fill="#e5989a"/><rect x="122.22" y="200.83" width="21.00" height="2.30" fill="#bdc2e0"/><rect x="144.43" y="200.83" width="21.00" height="2.30" fill="#cf464a"/><rect x="166.64" y="200.83" width="21.00" height="2.30" fill="#4d55a4"/><rect x="188.85" y="200.83" width="21.00" height="2.30" fill="#ffffff"/><rect x="211.06" y="200.83" width="21.00" height="2.30" fill="#a4aad4"/><rect x="233.27" y="200.83" width="21.00" height="2.30" fill="#e5989a"/><rect x="77.80" y="204.17" width="21.00" height="2.30" fill="#7c82bf"/><rect x="100.01" y="204.17" width="21.00" height="2.30" fill="#ced2e8"/><rect x="122.22" y="204.17" width="21.00" height="2.30" fill="#ffffff"/><rect x="144.43" y="204.17" width="21.00" height="2.30" fill="#cf464a"/><rect x="166.64" y="204.17" width="21.00" height="2.30" fill="#7c82bf"/><rect x="188.85" y="204.17" width="21.00" height="2.30" fill="#dbdeee"/><rect x="211.06" y="204.17" width="21.00" height="2.30" fill="#dbdeee"/><rect x="233.27" y="204.17" width="21.00" height="2.30" fill="#dc7579"/><rect x="77.80" y="207.50" width="21.00" height="2.30" fill="#7c82bf"/><rect x="100.01" y="207.50" width="21.00" height="2.30" fill="#ffffff"/><rect x="122.22" y="207.50" width="21.00" height="2.30" fill="#bdc2e0"/><rect x="144.43" y="207.50" width="21.00" height="2.30" fill="#cf464a"/><rect x="166.64" y="207.50" width="21.00" height="2.30" fill="#7c82bf"/><rect x="188.85" y="207.50" width="21.00" height="2.30" fill="#dbdeee"/><rect x="211.06" y="207.50" width="21.00" height="2.30" fill="#bdc2e0"/><rect x="233.27" y="207.50" width="21.00" height="2.30" fill="#e5989a"/><rect x="77.80" y="210.83" width="21.00" height="2.30" fill="#7c82bf"/><rect x="100.01" y="210.83" width="21.00" height="2.30" fill="#bdc2e0"/><rect x="122.22" y="210.83" width="21.00" height="2.30" fill="#eab1b3"/><rect x="144.43" y="210.83" width="21.00" height="2.30" fill="#c72327"/><rect x="166.64" y="210.83" width="21.00" height="2.30" fill="#bdc2e0"/><rect x="188.85" y="210.83" width="21.00" height="2.30" fill="#eab1b3"/><rect x="211.06" y="210.83" width="21.00" height="2.30" fill="#bdc2e0"/><rect x="233.27" y="210.83" width="21.00" height="2.30" fill="#bdc2e0"/><rect x="77.80" y="214.17" width="21.00" height="2.30" fill="#a4aad4"/><rect x="100.01" y="214.17" width="21.00" height="2.30" fill="#bdc2e0"/><rect x="122.22" y="214.17" width="21.00" height="2.30" fill="#bdc2e0"/><rect x="144.43" y="214.17" width="21.00" height="2.30" fill="#cf464a"/><rect x="166.64" y="214.17" width="21.00" height="2.30" fill="#bdc2e0"/><rect x="188.85" y="214.17" width="21.00" height="2.30" fill="#bdc2e0"/><rect x="211.06" y="214.17" width="21.00" height="2.30" fill="#e5989a"/><rect x="233.27" y="214.17" width="21.00" height="2.30" fill="#bdc2e0"/><rect x="77.80" y="217.50" width="21.00" height="2.30" fill="#bdc2e0"/><rect x="100.01" y="217.50" width="21.00" height="2.30" fill="#bdc2e0"/><rect x="122.22" y="217.50" width="21.00" height="2.30" fill="#bdc2e0"/><rect x="144.43" y="217.50" width="21.00" height="2.30" fill="#c72327"/><rect x="166.64" y="217.50" width="21.00" height="2.30" fill="#bdc2e0"/><rect x="188.85" y="217.50" width="21.00" height="2.30" fill="#bdc2e0"/><rect x="211.06" y="217.50" width="21.00" height="2.30" fill="#bdc2e0"/><rect x="233.27" y="217.50" width="21.00" height="2.30" fill="#bdc2e0"/><rect x="77.80" y="220.83" width="21.00" height="2.30" fill="#bdc2e0"/><rect x="100.01" y="220.83" width="21.00" height="2.30" fill="#bdc2e0"/><rect x="122.22" y="220.83" width="21.00" height="2.30" fill="#bdc2e0"/><rect x="144.43" y="220.83" width="21.00" height="2.30" fill="#c72327"/><rect x="166.64" y="220.83" width="21.00" height="2.30" fill="#bdc2e0"/><rect x="188.85" y="220.83" width="21.00" height="2.30" fill="#bdc2e0"/><rect x="211.06" y="220.83" width="21.00" height="2.30" fill="#bdc2e0"/><rect x="233.27" y="220.83" width="21.00" height="2.30" fill="#bdc2e0"/><rect x="77.80" y="224.17" width="21.00" height="2.30" fill="#bdc2e0"/><rect x="100.01" y="224.17" width="21.00" height="2.30" fill="#bdc2e0"/><rect x="122.22" y="224.17" width="21.00" height="2.30" fill="#bdc2e0"/><rect x="144.43" y="224.17" width="21.00" height="2.30" fill="#c72327"/><rect x="166.64" y="224.17" width="21.00" height="2.30" fill="#bdc2e0"/><rect x="188.85" y="224.17" width="21.00" height="2.30" fill="#bdc2e0"/><rect x="211.06" y="224.17" width="21.00" height="2.30" fill="#bdc2e0"/><rect x="233.27" y="224.17" width="21.00" height="2.30" fill="#bdc2e0"/><rect x="77.80" y="227.50" width="21.00" height="2.30" fill="#dbdeee"/><rect x="100.01" y="227.50" width="21.00" height="2.30" fill="#7c82bf"/><rect x="122.22" y="227.50" width="21.00" height="2.30" fill="#bdc2e0"/><rect x="144.43" y="227.50" width="21.00" height="2.30" fill="#cc383c"/><rect x="166.64" y="227.50" width="21.00" height="2.30" fill="#bdc2e0"/><rect x="188.85" y="227.50" width="21.00" height="2.30" fill="#bdc2e0"/><rect x="211.06" y="227.50" width="21.00" height="2.30" fill="#979dcd"/><rect x="233.27" y="227.50" width="21.00" height="2.30" fill="#dc7579"/><rect x="77.80" y="230.83" width="21.00" height="2.30" fill="#dbdeee"/><rect x="100.01" y="230.83" width="21.00" height="2.30" fill="#979dcd"/><rect x="122.22" y="230.83" width="21.00" height="2.30" fill="#bdc2e0"/><rect x="144.43" y="230.83" width="21.00" height="2.30" fill="#c72327"/><rect x="166.64" y="230.83" width="21.00" height="2.30" fill="#bdc2e0"/><rect x="188.85" y="230.83" width="21.00" height="2.30" fill="#bdc2e0"/><rect x="211.06" y="230.83" width="21.00" height="2.30" fill="#dbdeee"/><rect x="233.27" y="230.83" width="21.00" height="2.30" fill="#f2ccce"/><rect x="77.80" y="234.17" width="21.00" height="2.30" fill="#bdc2e0"/><rect x="100.01" y="234.17" width="21.00" height="2.30" fill="#bdc2e0"/><rect x="122.22" y="234.17" width="21.00" height="2.30" fill="#c72327"/><rect x="144.43" y="234.17" width="21.00" height="2.30" fill="#bdc2e0"/><rect x="166.64" y="234.17" width="21.00" height="2.30" fill="#7c82bf"/><rect x="188.85" y="234.17" width="21.00" height="2.30" fill="#ffffff"/><rect x="211.06" y="234.17" width="21.00" height="2.30" fill="#d66165"/><rect x="233.27" y="234.17" width="21.00" height="2.30" fill="#979dcd"/><rect x="77.80" y="237.50" width="21.00" height="2.30" fill="#bdc2e0"/><rect x="100.01" y="237.50" width="21.00" height="2.30" fill="#bdc2e0"/><rect x="122.22" y="237.50" width="21.00" height="2.30" fill="#c72327"/><rect x="144.43" y="237.50" width="21.00" height="2.30" fill="#bdc2e0"/><rect x="166.64" y="237.50" width="21.00" height="2.30" fill="#bdc2e0"/><rect x="188.85" y="237.50" width="21.00" height="2.30" fill="#bdc2e0"/><rect x="211.06" y="237.50" width="21.00" height="2.30" fill="#bdc2e0"/><rect x="233.27" y="237.50" width="21.00" height="2.30" fill="#bdc2e0"/><rect x="77.80" y="240.83" width="21.00" height="2.30" fill="#bdc2e0"/><rect x="100.01" y="240.83" width="21.00" height="2.30" fill="#bdc2e0"/><rect x="122.22" y="240.83" width="21.00" height="2.30" fill="#c72327"/><rect x="144.43" y="240.83" width="21.00" height="2.30" fill="#dbdeee"/><rect x="166.64" y="240.83" width="21.00" height="2.30" fill="#bdc2e0"/><rect x="188.85" y="240.83" width="21.00" height="2.30" fill="#bdc2e0"/><rect x="211.06" y="240.83" width="21.00" height="2.30" fill="#bdc2e0"/><rect x="233.27" y="240.83" width="21.00" height="2.30" fill="#bdc2e0"/><rect x="77.80" y="244.17" width="21.00" height="2.30" fill="#bdc2e0"/><rect x="100.01" y="244.17" width="21.00" height="2.30" fill="#bdc2e0"/><rect x="122.22" y="244.17" width="21.00" height="2.30" fill="#c72327"/><rect x="144.43" y="244.17" width="21.00" height="2.30" fill="#bdc2e0"/><rect x="166.64" y="244.17" width="21.00" height="2.30" fill="#bdc2e0"/><rect x="188.85" y="244.17" width="21.00" height="2.30" fill="#bdc2e0"/><rect x="211.06" y="244.17" width="21.00" height="2.30" fill="#bdc2e0"/><rect x="233.27" y="244.17" width="21.00" height="2.30" fill="#bdc2e0"/><rect x="77.80" y="247.50" width="21.00" height="2.30" fill="#979dcd"/><rect x="100.01" y="247.50" width="21.00" height="2.30" fill="#bdc2e0"/><rect x="122.22" y="247.50" width="21.00" height="2.30" fill="#cf464a"/><rect x="144.43" y="247.50" width="21.00" height="2.30" fill="#bdc2e0"/><rect x="166.64" y="247.50" width="21.00" height="2.30" fill="#7c82bf"/><rect x="188.85" y="247.50" width="21.00" height="2.30" fill="#cf464a"/><rect x="211.06" y="247.50" width="21.00" height="2.30" fill="#f2ccce"/><rect x="233.27" y="247.50" width="21.00" height="2.30" fill="#7c82bf"/><rect x="77.80" y="250.83" width="21.00" height="2.30" fill="#e5989a"/><rect x="100.01" y="250.83" width="21.00" height="2.30" fill="#ffffff"/><rect x="122.22" y="250.83" width="21.00" height="2.30" fill="#dc7579"/><rect x="144.43" y="250.83" width="21.00" height="2.30" fill="#7c82bf"/><rect x="166.64" y="250.83" width="21.00" height="2.30" fill="#5e65af"/><rect x="188.85" y="250.83" width="21.00" height="2.30" fill="#dc7579"/><rect x="211.06" y="250.83" width="21.00" height="2.30" fill="#bdc2e0"/><rect x="233.27" y="250.83" width="21.00" height="2.30" fill="#7c82bf"/><rect x="77.80" y="254.17" width="21.00" height="2.30" fill="#979dcd"/><rect x="100.01" y="254.17" width="21.00" height="2.30" fill="#bdc2e0"/><rect x="122.22" y="254.17" width="21.00" height="2.30" fill="#bdc2e0"/><rect x="144.43" y="254.17" width="21.00" height="2.30" fill="#bdc2e0"/><rect x="166.64" y="254.17" width="21.00" height="2.30" fill="#dc7579"/><rect x="188.85" y="254.17" width="21.00" height="2.30" fill="#bdc2e0"/><rect x="211.06" y="254.17" width="21.00" height="2.30" fill="#cf464a"/><rect x="233.27" y="254.17" width="21.00" height="2.30" fill="#979dcd"/><rect x="77.80" y="257.50" width="21.00" height="2.30" fill="#ffffff"/><rect x="100.01" y="257.50" width="21.00" height="2.30" fill="#bdc2e0"/><rect x="122.22" y="257.50" width="21.00" height="2.30" fill="#7c82bf"/><rect x="144.43" y="257.50" width="21.00" height="2.30" fill="#7c82bf"/><rect x="166.64" y="257.50" width="21.00" height="2.30" fill="#dc7579"/><rect x="188.85" y="257.50" width="21.00" height="2.30" fill="#efc3c5"/><rect x="211.06" y="257.50" width="21.00" height="2.30" fill="#cc383c"/><rect x="233.27" y="257.50" width="21.00" height="2.30" fill="#7c82bf"/><rect x="77.80" y="260.83" width="21.00" height="2.30" fill="#bdc2e0"/><rect x="100.01" y="260.83" width="21.00" height="2.30" fill="#bdc2e0"/><rect x="122.22" y="260.83" width="21.00" height="2.30" fill="#bdc2e0"/><rect x="144.43" y="260.83" width="21.00" height="2.30" fill="#bdc2e0"/><rect x="166.64" y="260.83" width="21.00" height="2.30" fill="#bdc2e0"/><rect x="188.85" y="260.83" width="21.00" height="2.30" fill="#bdc2e0"/><rect x="211.06" y="260.83" width="21.00" height="2.30" fill="#c72327"/><rect x="233.27" y="260.83" width="21.00" height="2.30" fill="#bdc2e0"/><rect x="77.80" y="264.17" width="21.00" height="2.30" fill="#bdc2e0"/><rect x="100.01" y="264.17" width="21.00" height="2.30" fill="#bdc2e0"/><rect x="122.22" y="264.17" width="21.00" height="2.30" fill="#bdc2e0"/><rect x="144.43" y="264.17" width="21.00" height="2.30" fill="#bdc2e0"/><rect x="166.64" y="264.17" width="21.00" height="2.30" fill="#bdc2e0"/><rect x="188.85" y="264.17" width="21.00" height="2.30" fill="#bdc2e0"/><rect x="211.06" y="264.17" width="21.00" height="2.30" fill="#c72327"/><rect x="233.27" y="264.17" width="21.00" height="2.30" fill="#dbdeee"/><rect x="77.80" y="267.50" width="21.00" height="2.30" fill="#c8cce5"/><rect x="100.01" y="267.50" width="21.00" height="2.30" fill="#bdc2e0"/><rect x="122.22" y="267.50" width="21.00" height="2.30" fill="#bdc2e0"/><rect x="144.43" y="267.50" width="21.00" height="2.30" fill="#bdc2e0"/><rect x="166.64" y="267.50" width="21.00" height="2.30" fill="#bdc2e0"/><rect x="188.85" y="267.50" width="21.00" height="2.30" fill="#bdc2e0"/><rect x="211.06" y="267.50" width="21.00" height="2.30" fill="#c72327"/><rect x="233.27" y="267.50" width="21.00" height="2.30" fill="#bdc2e0"/><rect x="77.80" y="270.83" width="21.00" height="2.30" fill="#e5989a"/><rect x="100.01" y="270.83" width="21.00" height="2.30" fill="#a4aad4"/><rect x="122.22" y="270.83" width="21.00" height="2.30" fill="#e5989a"/><rect x="144.43" y="270.83" width="21.00" height="2.30" fill="#979dcd"/><rect x="166.64" y="270.83" width="21.00" height="2.30" fill="#f2ccce"/><rect x="188.85" y="270.83" width="21.00" height="2.30" fill="#bdc2e0"/><rect x="211.06" y="270.83" width="21.00" height="2.30" fill="#cf464a"/><rect x="233.27" y="270.83" width="21.00" height="2.30" fill="#4d55a4"/><rect x="77.80" y="274.17" width="21.00" height="2.30" fill="#ffffff"/><rect x="100.01" y="274.17" width="21.00" height="2.30" fill="#4d55a4"/><rect x="122.22" y="274.17" width="21.00" height="2.30" fill="#f7e0e1"/><rect x="144.43" y="274.17" width="21.00" height="2.30" fill="#bdc2e0"/><rect x="166.64" y="274.17" width="21.00" height="2.30" fill="#ffffff"/><rect x="188.85" y="274.17" width="21.00" height="2.30" fill="#f7e0e1"/><rect x="211.06" y="274.17" width="21.00" height="2.30" fill="#cf464a"/><rect x="233.27" y="274.17" width="21.00" height="2.30" fill="#bdc2e0"/><rect x="77.80" y="277.50" width="21.00" height="2.30" fill="#4d55a4"/><rect x="100.01" y="277.50" width="21.00" height="2.30" fill="#4d55a4"/><rect x="122.22" y="277.50" width="21.00" height="2.30" fill="#eab1b3"/><rect x="144.43" y="277.50" width="21.00" height="2.30" fill="#e5989a"/><rect x="166.64" y="277.50" width="21.00" height="2.30" fill="#eab1b3"/><rect x="188.85" y="277.50" width="21.00" height="2.30" fill="#dc7579"/><rect x="211.06" y="277.50" width="21.00" height="2.30" fill="#e5989a"/><rect x="233.27" y="277.50" width="21.00" height="2.30" fill="#bdc2e0"/><rect x="77.80" y="280.83" width="21.00" height="2.30" fill="#4d55a4"/><rect x="100.01" y="280.83" width="21.00" height="2.30" fill="#7c82bf"/><rect x="122.22" y="280.83" width="21.00" height="2.30" fill="#dc7579"/><rect x="144.43" y="280.83" width="21.00" height="2.30" fill="#bdc2e0"/><rect x="166.64" y="280.83" width="21.00" height="2.30" fill="#eab1b3"/><rect x="188.85" y="280.83" width="21.00" height="2.30" fill="#d66165"/><rect x="211.06" y="280.83" width="21.00" height="2.30" fill="#dc7579"/><rect x="233.27" y="280.83" width="21.00" height="2.30" fill="#bdc2e0"/><rect x="77.80" y="284.17" width="21.00" height="2.30" fill="#f2ccce"/><rect x="100.01" y="284.17" width="21.00" height="2.30" fill="#4d55a4"/><rect x="122.22" y="284.17" width="21.00" height="2.30" fill="#e28b8f"/><rect x="144.43" y="284.17" width="21.00" height="2.30" fill="#bdc2e0"/><rect x="166.64" y="284.17" width="21.00" height="2.30" fill="#dc7579"/><rect x="188.85" y="284.17" width="21.00" height="2.30" fill="#f7e0e1"/><rect x="211.06" y="284.17" width="21.00" height="2.30" fill="#eab1b3"/><rect x="233.27" y="284.17" width="21.00" height="2.30" fill="#4d55a4"/><rect x="77.80" y="287.50" width="21.00" height="2.30" fill="#eab1b3"/><rect x="100.01" y="287.50" width="21.00" height="2.30" fill="#4d55a4"/><rect x="122.22" y="287.50" width="21.00" height="2.30" fill="#dc7579"/><rect x="144.43" y="287.50" width="21.00" height="2.30" fill="#f7e0e1"/><rect x="166.64" y="287.50" width="21.00" height="2.30" fill="#eab1b3"/><rect x="188.85" y="287.50" width="21.00" height="2.30" fill="#979dcd"/><rect x="211.06" y="287.50" width="21.00" height="2.30" fill="#e28b8f"/><rect x="233.27" y="287.50" width="21.00" height="2.30" fill="#7c82bf"/><rect x="77.80" y="290.83" width="21.00" height="2.30" fill="#cf464a"/><rect x="100.01" y="290.83" width="21.00" height="2.30" fill="#4d55a4"/><rect x="122.22" y="290.83" width="21.00" height="2.30" fill="#f7e0e1"/><rect x="144.43" y="290.83" width="21.00" height="2.30" fill="#dc7579"/><rect x="166.64" y="290.83" width="21.00" height="2.30" fill="#7c82bf"/><rect x="188.85" y="290.83" width="21.00" height="2.30" fill="#f7e0e1"/><rect x="211.06" y="290.83" width="21.00" height="2.30" fill="#a4aad4"/><rect x="233.27" y="290.83" width="21.00" height="2.30" fill="#ffffff"/><rect x="77.80" y="294.17" width="21.00" height="2.30" fill="#c72327"/><rect x="100.01" y="294.17" width="21.00" height="2.30" fill="#a4aad4"/><rect x="122.22" y="294.17" width="21.00" height="2.30" fill="#ffffff"/><rect x="144.43" y="294.17" width="21.00" height="2.30" fill="#bdc2e0"/><rect x="166.64" y="294.17" width="21.00" height="2.30" fill="#bdc2e0"/><rect x="188.85" y="294.17" width="21.00" height="2.30" fill="#eab1b3"/><rect x="211.06" y="294.17" width="21.00" height="2.30" fill="#bdc2e0"/><rect x="233.27" y="294.17" width="21.00" height="2.30" fill="#bdc2e0"/><rect x="77.80" y="297.50" width="21.00" height="2.30" fill="#c72327"/><rect x="100.01" y="297.50" width="21.00" height="2.30" fill="#bdc2e0"/><rect x="122.22" y="297.50" width="21.00" height="2.30" fill="#ffffff"/><rect x="144.43" y="297.50" width="21.00" height="2.30" fill="#bdc2e0"/><rect x="166.64" y="297.50" width="21.00" height="2.30" fill="#bdc2e0"/><rect x="188.85" y="297.50" width="21.00" height="2.30" fill="#bdc2e0"/><rect x="211.06" y="297.50" width="21.00" height="2.30" fill="#dbdeee"/><rect x="233.27" y="297.50" width="21.00" height="2.30" fill="#bdc2e0"/><rect x="77.80" y="300.83" width="21.00" height="2.30" fill="#c72327"/><rect x="100.01" y="300.83" width="21.00" height="2.30" fill="#dbdeee"/><rect x="122.22" y="300.83" width="21.00" height="2.30" fill="#dbdeee"/><rect x="144.43" y="300.83" width="21.00" height="2.30" fill="#dbdeee"/><rect x="166.64" y="300.83" width="21.00" height="2.30" fill="#bdc2e0"/><rect x="188.85" y="300.83" width="21.00" height="2.30" fill="#bdc2e0"/><rect x="211.06" y="300.83" width="21.00" height="2.30" fill="#bdc2e0"/><rect x="233.27" y="300.83" width="21.00" height="2.30" fill="#bdc2e0"/><rect x="77.80" y="304.17" width="21.00" height="2.30" fill="#c72327"/><rect x="100.01" y="304.17" width="21.00" height="2.30" fill="#bdc2e0"/><rect x="122.22" y="304.17" width="21.00" height="2.30" fill="#dbdeee"/><rect x="144.43" y="304.17" width="21.00" height="2.30" fill="#dbdeee"/><rect x="166.64" y="304.17" width="21.00" height="2.30" fill="#bdc2e0"/><rect x="188.85" y="304.17" width="21.00" height="2.30" fill="#bdc2e0"/><rect x="211.06" y="304.17" width="21.00" height="2.30" fill="#efc3c5"/><rect x="233.27" y="304.17" width="21.00" height="2.30" fill="#bdc2e0"/><rect x="77.80" y="307.50" width="21.00" height="2.30" fill="#c72327"/><rect x="100.01" y="307.50" width="21.00" height="2.30" fill="#dbdeee"/><rect x="122.22" y="307.50" width="21.00" height="2.30" fill="#dbdeee"/><rect x="144.43" y="307.50" width="21.00" height="2.30" fill="#bdc2e0"/><rect x="166.64" y="307.50" width="21.00" height="2.30" fill="#dbdeee"/><rect x="188.85" y="307.50" width="21.00" height="2.30" fill="#979dcd"/><rect x="211.06" y="307.50" width="21.00" height="2.30" fill="#eab1b3"/><rect x="233.27" y="307.50" width="21.00" height="2.30" fill="#bdc2e0"/><rect x="77.80" y="310.83" width="21.00" height="2.30" fill="#c72327"/><rect x="100.01" y="310.83" width="21.00" height="2.30" fill="#bdc2e0"/><rect x="122.22" y="310.83" width="21.00" height="2.30" fill="#dbdeee"/><rect x="144.43" y="310.83" width="21.00" height="2.30" fill="#7c82bf"/><rect x="166.64" y="310.83" width="21.00" height="2.30" fill="#a4aad4"/><rect x="188.85" y="310.83" width="21.00" height="2.30" fill="#dbdeee"/><rect x="211.06" y="310.83" width="21.00" height="2.30" fill="#f7e0e1"/><rect x="233.27" y="310.83" width="21.00" height="2.30" fill="#bdc2e0"/><rect x="77.80" y="314.17" width="21.00" height="2.30" fill="#cf464a"/><rect x="100.01" y="314.17" width="21.00" height="2.30" fill="#dbdeee"/><rect x="122.22" y="314.17" width="21.00" height="2.30" fill="#eab1b3"/><rect x="144.43" y="314.17" width="21.00" height="2.30" fill="#5e65af"/><rect x="166.64" y="314.17" width="21.00" height="2.30" fill="#eab1b3"/><rect x="188.85" y="314.17" width="21.00" height="2.30" fill="#dbdeee"/><rect x="211.06" y="314.17" width="21.00" height="2.30" fill="#5e65af"/><rect x="233.27" y="314.17" width="21.00" height="2.30" fill="#bdc2e0"/><rect x="77.80" y="317.50" width="21.00" height="2.30" fill="#cf464a"/><rect x="100.01" y="317.50" width="21.00" height="2.30" fill="#7c82bf"/><rect x="122.22" y="317.50" width="21.00" height="2.30" fill="#efc3c5"/><rect x="144.43" y="317.50" width="21.00" height="2.30" fill="#bdc2e0"/><rect x="166.64" y="317.50" width="21.00" height="2.30" fill="#e5989a"/><rect x="188.85" y="317.50" width="21.00" height="2.30" fill="#f2ccce"/><rect x="211.06" y="317.50" width="21.00" height="2.30" fill="#a4aad4"/><rect x="233.27" y="317.50" width="21.00" height="2.30" fill="#5e65af"/><rect x="77.80" y="320.83" width="21.00" height="2.30" fill="#d66165"/><rect x="100.01" y="320.83" width="21.00" height="2.30" fill="#ffffff"/><rect x="122.22" y="320.83" width="21.00" height="2.30" fill="#7c82bf"/><rect x="144.43" y="320.83" width="21.00" height="2.30" fill="#7c82bf"/><rect x="166.64" y="320.83" width="21.00" height="2.30" fill="#eab1b3"/><rect x="188.85" y="320.83" width="21.00" height="2.30" fill="#e5989a"/><rect x="211.06" y="320.83" width="21.00" height="2.30" fill="#bdc2e0"/><rect x="233.27" y="320.83" width="21.00" height="2.30" fill="#7c82bf"/><rect x="77.80" y="324.17" width="21.00" height="2.30" fill="#dc7579"/><rect x="100.01" y="324.17" width="21.00" height="2.30" fill="#f7e0e1"/><rect x="122.22" y="324.17" width="21.00" height="2.30" fill="#dbdeee"/><rect x="144.43" y="324.17" width="21.00" height="2.30" fill="#4d55a4"/><rect x="166.64" y="324.17" width="21.00" height="2.30" fill="#dc7579"/><rect x="188.85" y="324.17" width="21.00" height="2.30" fill="#eab1b3"/><rect x="211.06" y="324.17" width="21.00" height="2.30" fill="#a4aad4"/><rect x="233.27" y="324.17" width="21.00" height="2.30" fill="#7c82bf"/><rect x="77.80" y="327.50" width="21.00" height="2.30" fill="#eab1b3"/><rect x="100.01" y="327.50" width="21.00" height="2.30" fill="#f7e0e1"/><rect x="122.22" y="327.50" width="21.00" height="2.30" fill="#7c82bf"/><rect x="144.43" y="327.50" width="21.00" height="2.30" fill="#bdc2e0"/><rect x="166.64" y="327.50" width="21.00" height="2.30" fill="#cf464a"/><rect x="188.85" y="327.50" width="21.00" height="2.30" fill="#eab1b3"/><rect x="211.06" y="327.50" width="21.00" height="2.30" fill="#7c82bf"/><rect x="233.27" y="327.50" width="21.00" height="2.30" fill="#a4aad4"/><rect x="77.80" y="330.83" width="21.00" height="2.30" fill="#dc7579"/><rect x="100.01" y="330.83" width="21.00" height="2.30" fill="#f2ccce"/><rect x="122.22" y="330.83" width="21.00" height="2.30" fill="#979dcd"/><rect x="144.43" y="330.83" width="21.00" height="2.30" fill="#979dcd"/><rect x="166.64" y="330.83" width="21.00" height="2.30" fill="#dc7579"/><rect x="188.85" y="330.83" width="21.00" height="2.30" fill="#cf464a"/><rect x="211.06" y="330.83" width="21.00" height="2.30" fill="#7c82bf"/><rect x="233.27" y="330.83" width="21.00" height="2.30" fill="#7c82bf"/><rect x="77.80" y="334.17" width="21.00" height="2.30" fill="#dc7579"/><rect x="100.01" y="334.17" width="21.00" height="2.30" fill="#f7e0e1"/><rect x="122.22" y="334.17" width="21.00" height="2.30" fill="#7c82bf"/><rect x="144.43" y="334.17" width="21.00" height="2.30" fill="#a4aad4"/><rect x="166.64" y="334.17" width="21.00" height="2.30" fill="#dc7579"/><rect x="188.85" y="334.17" width="21.00" height="2.30" fill="#dc7579"/><rect x="211.06" y="334.17" width="21.00" height="2.30" fill="#7c82bf"/><rect x="233.27" y="334.17" width="21.00" height="2.30" fill="#7c82bf"/><rect x="77.80" y="337.50" width="21.00" height="2.30" fill="#d66165"/><rect x="100.01" y="337.50" width="21.00" height="2.30" fill="#979dcd"/><rect x="122.22" y="337.50" width="21.00" height="2.30" fill="#7c82bf"/><rect x="144.43" y="337.50" width="21.00" height="2.30" fill="#f2ccce"/><rect x="166.64" y="337.50" width="21.00" height="2.30" fill="#dc7579"/><rect x="188.85" y="337.50" width="21.00" height="2.30" fill="#dc7579"/><rect x="211.06" y="337.50" width="21.00" height="2.30" fill="#a4aad4"/><rect x="233.27" y="337.50" width="21.00" height="2.30" fill="#7c82bf"/><rect x="77.80" y="340.83" width="21.00" height="2.30" fill="#cf464a"/><rect x="100.01" y="340.83" width="21.00" height="2.30" fill="#ffffff"/><rect x="122.22" y="340.83" width="21.00" height="2.30" fill="#7c82bf"/><rect x="144.43" y="340.83" width="21.00" height="2.30" fill="#7c82bf"/><rect x="166.64" y="340.83" width="21.00" height="2.30" fill="#e5989a"/><rect x="188.85" y="340.83" width="21.00" height="2.30" fill="#f7e0e1"/><rect x="211.06" y="340.83" width="21.00" height="2.30" fill="#7c82bf"/><rect x="233.27" y="340.83" width="21.00" height="2.30" fill="#bdc2e0"/><rect x="77.80" y="344.17" width="21.00" height="2.30" fill="#dc7579"/><rect x="100.01" y="344.17" width="21.00" height="2.30" fill="#bdc2e0"/><rect x="122.22" y="344.17" width="21.00" height="2.30" fill="#7c82bf"/><rect x="144.43" y="344.17" width="21.00" height="2.30" fill="#bdc2e0"/><rect x="166.64" y="344.17" width="21.00" height="2.30" fill="#e28b8f"/><rect x="188.85" y="344.17" width="21.00" height="2.30" fill="#efc3c5"/><rect x="211.06" y="344.17" width="21.00" height="2.30" fill="#7c82bf"/><rect x="233.27" y="344.17" width="21.00" height="2.30" fill="#979dcd"/><rect x="77.80" y="347.50" width="21.00" height="2.30" fill="#cf464a"/><rect x="100.01" y="347.50" width="21.00" height="2.30" fill="#a4aad4"/><rect x="122.22" y="347.50" width="21.00" height="2.30" fill="#979dcd"/><rect x="144.43" y="347.50" width="21.00" height="2.30" fill="#bdc2e0"/><rect x="166.64" y="347.50" width="21.00" height="2.30" fill="#dc7579"/><rect x="188.85" y="347.50" width="21.00" height="2.30" fill="#dbdeee"/><rect x="211.06" y="347.50" width="21.00" height="2.30" fill="#bdc2e0"/><rect x="233.27" y="347.50" width="21.00" height="2.30" fill="#bdc2e0"/><rect x="77.80" y="350.83" width="21.00" height="2.30" fill="#cf464a"/><rect x="100.01" y="350.83" width="21.00" height="2.30" fill="#bdc2e0"/><rect x="122.22" y="350.83" width="21.00" height="2.30" fill="#bdc2e0"/><rect x="144.43" y="350.83" width="21.00" height="2.30" fill="#dbdeee"/><rect x="166.64" y="350.83" width="21.00" height="2.30" fill="#dbdeee"/><rect x="188.85" y="350.83" width="21.00" height="2.30" fill="#dc7579"/><rect x="211.06" y="350.83" width="21.00" height="2.30" fill="#7c82bf"/><rect x="233.27" y="350.83" width="21.00" height="2.30" fill="#f7e0e1"/><rect x="77.80" y="354.17" width="21.00" height="2.30" fill="#dc7579"/><rect x="100.01" y="354.17" width="21.00" height="2.30" fill="#a4aad4"/><rect x="122.22" y="354.17" width="21.00" height="2.30" fill="#dbdeee"/><rect x="144.43" y="354.17" width="21.00" height="2.30" fill="#a4aad4"/><rect x="166.64" y="354.17" width="21.00" height="2.30" fill="#a4aad4"/><rect x="188.85" y="354.17" width="21.00" height="2.30" fill="#cc383c"/><rect x="211.06" y="354.17" width="21.00" height="2.30" fill="#bdc2e0"/><rect x="233.27" y="354.17" width="21.00" height="2.30" fill="#f7e0e1"/><rect x="77.80" y="357.50" width="21.00" height="2.30" fill="#dc7579"/><rect x="100.01" y="357.50" width="21.00" height="2.30" fill="#7c82bf"/><rect x="122.22" y="357.50" width="21.00" height="2.30" fill="#bdc2e0"/><rect x="144.43" y="357.50" width="21.00" height="2.30" fill="#7c82bf"/><rect x="166.64" y="357.50" width="21.00" height="2.30" fill="#f7e0e1"/><rect x="188.85" y="357.50" width="21.00" height="2.30" fill="#e5989a"/><rect x="211.06" y="357.50" width="21.00" height="2.30" fill="#7c82bf"/><rect x="233.27" y="357.50" width="21.00" height="2.30" fill="#dc7579"/><rect x="77.80" y="360.83" width="21.00" height="2.30" fill="#dc7579"/><rect x="100.01" y="360.83" width="21.00" height="2.30" fill="#5e65af"/><rect x="122.22" y="360.83" width="21.00" height="2.30" fill="#7c82bf"/><rect x="144.43" y="360.83" width="21.00" height="2.30" fill="#bdc2e0"/><rect x="166.64" y="360.83" width="21.00" height="2.30" fill="#d66165"/><rect x="188.85" y="360.83" width="21.00" height="2.30" fill="#eab1b3"/><rect x="211.06" y="360.83" width="21.00" height="2.30" fill="#7c82bf"/><rect x="233.27" y="360.83" width="21.00" height="2.30" fill="#e5989a"/><rect x="77.80" y="364.17" width="21.00" height="2.30" fill="#bdc2e0"/><rect x="100.01" y="364.17" width="21.00" height="2.30" fill="#7c82bf"/><rect x="122.22" y="364.17" width="21.00" height="2.30" fill="#bdc2e0"/><rect x="144.43" y="364.17" width="21.00" height="2.30" fill="#efc3c5"/><rect x="166.64" y="364.17" width="21.00" height="2.30" fill="#cf464a"/><rect x="188.85" y="364.17" width="21.00" height="2.30" fill="#efc3c5"/><rect x="211.06" y="364.17" width="21.00" height="2.30" fill="#c8cce5"/><rect x="233.27" y="364.17" width="21.00" height="2.30" fill="#f2ccce"/><rect x="77.80" y="367.50" width="21.00" height="2.30" fill="#a4aad4"/><rect x="100.01" y="367.50" width="21.00" height="2.30" fill="#a4aad4"/><rect x="122.22" y="367.50" width="21.00" height="2.30" fill="#a4aad4"/><rect x="144.43" y="367.50" width="21.00" height="2.30" fill="#e5989a"/><rect x="166.64" y="367.50" width="21.00" height="2.30" fill="#c72327"/><rect x="188.85" y="367.50" width="21.00" height="2.30" fill="#bdc2e0"/><rect x="211.06" y="367.50" width="21.00" height="2.30" fill="#efc3c5"/><rect x="233.27" y="367.50" width="21.00" height="2.30" fill="#a4aad4"/><rect x="77.80" y="370.83" width="21.00" height="2.30" fill="#bdc2e0"/><rect x="100.01" y="370.83" width="21.00" height="2.30" fill="#bdc2e0"/><rect x="122.22" y="370.83" width="21.00" height="2.30" fill="#bdc2e0"/><rect x="144.43" y="370.83" width="21.00" height="2.30" fill="#bdc2e0"/><rect x="166.64" y="370.83" width="21.00" height="2.30" fill="#c72327"/><rect x="188.85" y="370.83" width="21.00" height="2.30" fill="#bdc2e0"/><rect x="211.06" y="370.83" width="21.00" height="2.30" fill="#efc3c5"/><rect x="233.27" y="370.83" width="21.00" height="2.30" fill="#bdc2e0"/><rect x="77.80" y="374.17" width="21.00" height="2.30" fill="#bdc2e0"/><rect x="100.01" y="374.17" width="21.00" height="2.30" fill="#bdc2e0"/><rect x="122.22" y="374.17" width="21.00" height="2.30" fill="#bdc2e0"/><rect x="144.43" y="374.17" width="21.00" height="2.30" fill="#bdc2e0"/><rect x="166.64" y="374.17" width="21.00" height="2.30" fill="#c72327"/><rect x="188.85" y="374.17" width="21.00" height="2.30" fill="#ffffff"/><rect x="211.06" y="374.17" width="21.00" height="2.30" fill="#bdc2e0"/><rect x="233.27" y="374.17" width="21.00" height="2.30" fill="#bdc2e0"/><rect x="77.80" y="377.50" width="21.00" height="2.30" fill="#bdc2e0"/><rect x="100.01" y="377.50" width="21.00" height="2.30" fill="#bdc2e0"/><rect x="122.22" y="377.50" width="21.00" height="2.30" fill="#bdc2e0"/><rect x="144.43" y="377.50" width="21.00" height="2.30" fill="#bdc2e0"/><rect x="166.64" y="377.50" width="21.00" height="2.30" fill="#c72327"/><rect x="188.85" y="377.50" width="21.00" height="2.30" fill="#bdc2e0"/><rect x="211.06" y="377.50" width="21.00" height="2.30" fill="#bdc2e0"/><rect x="233.27" y="377.50" width="21.00" height="2.30" fill="#bdc2e0"/><rect x="77.80" y="380.83" width="21.00" height="2.30" fill="#bdc2e0"/><rect x="100.01" y="380.83" width="21.00" height="2.30" fill="#dbdeee"/><rect x="122.22" y="380.83" width="21.00" height="2.30" fill="#bdc2e0"/><rect x="144.43" y="380.83" width="21.00" height="2.30" fill="#bdc2e0"/><rect x="166.64" y="380.83" width="21.00" height="2.30" fill="#c72327"/><rect x="188.85" y="380.83" width="21.00" height="2.30" fill="#bdc2e0"/><rect x="211.06" y="380.83" width="21.00" height="2.30" fill="#bdc2e0"/><rect x="233.27" y="380.83" width="21.00" height="2.30" fill="#bdc2e0"/><rect x="77.80" y="384.17" width="21.00" height="2.30" fill="#bdc2e0"/><rect x="100.01" y="384.17" width="21.00" height="2.30" fill="#bdc2e0"/><rect x="122.22" y="384.17" width="21.00" height="2.30" fill="#bdc2e0"/><rect x="144.43" y="384.17" width="21.00" height="2.30" fill="#dbdeee"/><rect x="166.64" y="384.17" width="21.00" height="2.30" fill="#c72327"/><rect x="188.85" y="384.17" width="21.00" height="2.30" fill="#bdc2e0"/><rect x="211.06" y="384.17" width="21.00" height="2.30" fill="#bdc2e0"/><rect x="233.27" y="384.17" width="21.00" height="2.30" fill="#bdc2e0"/><rect x="77.80" y="387.50" width="21.00" height="2.30" fill="#7c82bf"/><rect x="100.01" y="387.50" width="21.00" height="2.30" fill="#dc7579"/><rect x="122.22" y="387.50" width="21.00" height="2.30" fill="#7c82bf"/><rect x="144.43" y="387.50" width="21.00" height="2.30" fill="#979dcd"/><rect x="166.64" y="387.50" width="21.00" height="2.30" fill="#ffffff"/><rect x="188.85" y="387.50" width="21.00" height="2.30" fill="#cf464a"/><rect x="211.06" y="387.50" width="21.00" height="2.30" fill="#7c82bf"/><rect x="233.27" y="387.50" width="21.00" height="2.30" fill="#e5989a"/><rect x="77.80" y="390.83" width="21.00" height="2.30" fill="#bdc2e0"/><rect x="100.01" y="390.83" width="21.00" height="2.30" fill="#e5989a"/><rect x="122.22" y="390.83" width="21.00" height="2.30" fill="#bdc2e0"/><rect x="144.43" y="390.83" width="21.00" height="2.30" fill="#bdc2e0"/><rect x="166.64" y="390.83" width="21.00" height="2.30" fill="#bdc2e0"/><rect x="188.85" y="390.83" width="21.00" height="2.30" fill="#c72327"/><rect x="211.06" y="390.83" width="21.00" height="2.30" fill="#bdc2e0"/><rect x="233.27" y="390.83" width="21.00" height="2.30" fill="#bdc2e0"/><rect x="77.80" y="394.17" width="21.00" height="2.30" fill="#dbdeee"/><rect x="100.01" y="394.17" width="21.00" height="2.30" fill="#ffffff"/><rect x="122.22" y="394.17" width="21.00" height="2.30" fill="#bdc2e0"/><rect x="144.43" y="394.17" width="21.00" height="2.30" fill="#bdc2e0"/><rect x="166.64" y="394.17" width="21.00" height="2.30" fill="#ced2e8"/><rect x="188.85" y="394.17" width="21.00" height="2.30" fill="#c72327"/><rect x="211.06" y="394.17" width="21.00" height="2.30" fill="#bdc2e0"/><rect x="233.27" y="394.17" width="21.00" height="2.30" fill="#bdc2e0"/><rect x="77.80" y="397.50" width="21.00" height="2.30" fill="#bdc2e0"/><rect x="100.01" y="397.50" width="21.00" height="2.30" fill="#bdc2e0"/><rect x="122.22" y="397.50" width="21.00" height="2.30" fill="#bdc2e0"/><rect x="144.43" y="397.50" width="21.00" height="2.30" fill="#bdc2e0"/><rect x="166.64" y="397.50" width="21.00" height="2.30" fill="#c8cce5"/><rect x="188.85" y="397.50" width="21.00" height="2.30" fill="#c72327"/><rect x="211.06" y="397.50" width="21.00" height="2.30" fill="#bdc2e0"/><rect x="233.27" y="397.50" width="21.00" height="2.30" fill="#bdc2e0"/><rect x="77.80" y="400.83" width="21.00" height="2.30" fill="#7c82bf"/><rect x="100.01" y="400.83" width="21.00" height="2.30" fill="#7c82bf"/><rect x="122.22" y="400.83" width="21.00" height="2.30" fill="#dbdeee"/><rect x="144.43" y="400.83" width="21.00" height="2.30" fill="#4d55a4"/><rect x="166.64" y="400.83" width="21.00" height="2.30" fill="#d66165"/><rect x="188.85" y="400.83" width="21.00" height="2.30" fill="#cf464a"/><rect x="211.06" y="400.83" width="21.00" height="2.30" fill="#f2ccce"/><rect x="233.27" y="400.83" width="21.00" height="2.30" fill="#efc3c5"/><rect x="77.80" y="404.17" width="21.00" height="2.30" fill="#f2ccce"/><rect x="100.01" y="404.17" width="21.00" height="2.30" fill="#7c82bf"/><rect x="122.22" y="404.17" width="21.00" height="2.30" fill="#bdc2e0"/><rect x="144.43" y="404.17" width="21.00" height="2.30" fill="#333980"/><rect x="166.64" y="404.17" width="21.00" height="2.30" fill="#eab1b3"/><rect x="188.85" y="404.17" width="21.00" height="2.30" fill="#cf464a"/><rect x="211.06" y="404.17" width="21.00" height="2.30" fill="#dbdeee"/><rect x="233.27" y="404.17" width="21.00" height="2.30" fill="#f7e0e1"/><rect x="77.80" y="407.50" width="21.00" height="2.30" fill="#7c82bf"/><rect x="100.01" y="407.50" width="21.00" height="2.30" fill="#dc7579"/><rect x="122.22" y="407.50" width="21.00" height="2.30" fill="#dbdeee"/><rect x="144.43" y="407.50" width="21.00" height="2.30" fill="#ffffff"/><rect x="166.64" y="407.50" width="21.00" height="2.30" fill="#dc7579"/><rect x="188.85" y="407.50" width="21.00" height="2.30" fill="#d66165"/><rect x="211.06" y="407.50" width="21.00" height="2.30" fill="#7c82bf"/><rect x="233.27" y="407.50" width="21.00" height="2.30" fill="#7c82bf"/><rect x="77.80" y="410.83" width="21.00" height="2.30" fill="#a4aad4"/><rect x="100.01" y="410.83" width="21.00" height="2.30" fill="#e5989a"/><rect x="122.22" y="410.83" width="21.00" height="2.30" fill="#979dcd"/><rect x="144.43" y="410.83" width="21.00" height="2.30" fill="#bdc2e0"/><rect x="166.64" y="410.83" width="21.00" height="2.30" fill="#dc7579"/><rect x="188.85" y="410.83" width="21.00" height="2.30" fill="#d66165"/><rect x="211.06" y="410.83" width="21.00" height="2.30" fill="#7c82bf"/><rect x="233.27" y="410.83" width="21.00" height="2.30" fill="#7c82bf"/><rect x="77.80" y="414.17" width="21.00" height="2.30" fill="#bdc2e0"/><rect x="100.01" y="414.17" width="21.00" height="2.30" fill="#e5989a"/><rect x="122.22" y="414.17" width="21.00" height="2.30" fill="#979dcd"/><rect x="144.43" y="414.17" width="21.00" height="2.30" fill="#7c82bf"/><rect x="166.64" y="414.17" width="21.00" height="2.30" fill="#cf464a"/><rect x="188.85" y="414.17" width="21.00" height="2.30" fill="#cf464a"/><rect x="211.06" y="414.17" width="21.00" height="2.30" fill="#a4aad4"/><rect x="233.27" y="414.17" width="21.00" height="2.30" fill="#5e65af"/><rect x="77.80" y="417.50" width="21.00" height="2.30" fill="#5e65af"/><rect x="100.01" y="417.50" width="21.00" height="2.30" fill="#c8cce5"/><rect x="122.22" y="417.50" width="21.00" height="2.30" fill="#e28b8f"/><rect x="144.43" y="417.50" width="21.00" height="2.30" fill="#bdc2e0"/><rect x="166.64" y="417.50" width="21.00" height="2.30" fill="#cf464a"/><rect x="188.85" y="417.50" width="21.00" height="2.30" fill="#dc7579"/><rect x="211.06" y="417.50" width="21.00" height="2.30" fill="#bdc2e0"/><rect x="233.27" y="417.50" width="21.00" height="2.30" fill="#7c82bf"/><rect x="77.80" y="420.83" width="21.00" height="2.30" fill="#979dcd"/><rect x="100.01" y="420.83" width="21.00" height="2.30" fill="#ffffff"/><rect x="122.22" y="420.83" width="21.00" height="2.30" fill="#a4aad4"/><rect x="144.43" y="420.83" width="21.00" height="2.30" fill="#fcf2f3"/><rect x="166.64" y="420.83" width="21.00" height="2.30" fill="#dc7579"/><rect x="188.85" y="420.83" width="21.00" height="2.30" fill="#cf464a"/><rect x="211.06" y="420.83" width="21.00" height="2.30" fill="#ced2e8"/><rect x="233.27" y="420.83" width="21.00" height="2.30" fill="#bdc2e0"/><rect x="77.80" y="424.17" width="21.00" height="2.30" fill="#bdc2e0"/><rect x="100.01" y="424.17" width="21.00" height="2.30" fill="#bdc2e0"/><rect x="122.22" y="424.17" width="21.00" height="2.30" fill="#bdc2e0"/><rect x="144.43" y="424.17" width="21.00" height="2.30" fill="#bdc2e0"/><rect x="166.64" y="424.17" width="21.00" height="2.30" fill="#cf464a"/><rect x="188.85" y="424.17" width="21.00" height="2.30" fill="#cf464a"/><rect x="211.06" y="424.17" width="21.00" height="2.30" fill="#979dcd"/><rect x="233.27" y="424.17" width="21.00" height="2.30" fill="#979dcd"/><rect x="77.80" y="427.50" width="21.00" height="2.30" fill="#bdc2e0"/><rect x="100.01" y="427.50" width="21.00" height="2.30" fill="#979dcd"/><rect x="122.22" y="427.50" width="21.00" height="2.30" fill="#bdc2e0"/><rect x="144.43" y="427.50" width="21.00" height="2.30" fill="#bdc2e0"/><rect x="166.64" y="427.50" width="21.00" height="2.30" fill="#cf464a"/><rect x="188.85" y="427.50" width="21.00" height="2.30" fill="#dc7579"/><rect x="211.06" y="427.50" width="21.00" height="2.30" fill="#bdc2e0"/><rect x="233.27" y="427.50" width="21.00" height="2.30" fill="#bdc2e0"/><rect x="77.80" y="430.83" width="21.00" height="2.30" fill="#979dcd"/><rect x="100.01" y="430.83" width="21.00" height="2.30" fill="#979dcd"/><rect x="122.22" y="430.83" width="21.00" height="2.30" fill="#f7e0e1"/><rect x="144.43" y="430.83" width="21.00" height="2.30" fill="#979dcd"/><rect x="166.64" y="430.83" width="21.00" height="2.30" fill="#e5989a"/><rect x="188.85" y="430.83" width="21.00" height="2.30" fill="#c72327"/><rect x="211.06" y="430.83" width="21.00" height="2.30" fill="#7c82bf"/><rect x="233.27" y="430.83" width="21.00" height="2.30" fill="#dbdeee"/><rect x="77.80" y="434.17" width="21.00" height="2.30" fill="#ced2e8"/><rect x="100.01" y="434.17" width="21.00" height="2.30" fill="#ffffff"/><rect x="122.22" y="434.17" width="21.00" height="2.30" fill="#f2ccce"/><rect x="144.43" y="434.17" width="21.00" height="2.30" fill="#a4aad4"/><rect x="166.64" y="434.17" width="21.00" height="2.30" fill="#eab1b3"/><rect x="188.85" y="434.17" width="21.00" height="2.30" fill="#cf464a"/><rect x="211.06" y="434.17" width="21.00" height="2.30" fill="#979dcd"/><rect x="233.27" y="434.17" width="21.00" height="2.30" fill="#a4aad4"/></g>
<g fill="#cfcfcf"><rect x="258.6" y="18.07" width="7.0" height="1.2"/><rect x="266.3" y="18.07" width="1.7" height="1.2"/><rect x="268.8" y="18.07" width="3.3" height="1.2"/><rect x="258.6" y="21.40" width="7.0" height="1.2"/><rect x="266.3" y="21.40" width="1.7" height="1.2"/><rect x="268.8" y="21.40" width="3.3" height="1.2"/><rect x="258.6" y="24.73" width="7.0" height="1.2"/><rect x="266.3" y="24.73" width="1.7" height="1.2"/><rect x="268.8" y="24.73" width="3.3" height="1.2"/><rect x="258.6" y="28.07" width="7.0" height="1.2"/><rect x="266.3" y="28.07" width="1.7" height="1.2"/><rect x="268.8" y="28.07" width="3.3" height="1.2"/><rect x="258.6" y="31.40" width="7.0" height="1.2"/><rect x="266.3" y="31.40" width="1.7" height="1.2"/><rect x="268.8" y="31.40" width="3.3" height="1.2"/><rect x="258.6" y="34.73" width="7.0" height="1.2"/><rect x="266.3" y="34.73" width="1.7" height="1.2"/><rect x="268.8" y="34.73" width="3.3" height="1.2"/><rect x="258.6" y="38.07" width="7.0" height="1.2"/><rect x="266.3" y="38.07" width="1.7" height="1.2"/><rect x="268.8" y="38.07" width="3.3" height="1.2"/><rect x="258.6" y="41.40" width="7.0" height="1.2"/><rect x="266.3" y="41.40" width="1.7" height="1.2"/><rect x="268.8" y="41.40" width="3.3" height="1.2"/><rect x="258.6" y="44.73" width="7.0" height="1.2"/><rect x="266.3" y="44.73" width="1.7" height="1.2"/><rect x="268.8" y="44.73" width="3.3" height="1.2"/><rect x="258.6" y="48.07" width="7.0" height="1.2"/><rect x="266.3" y="48.07" width="1.7" height="1.2"/><rect x="268.8" y="48.07" width="3.3" height="1.2"/><rect x="258.6" y="51.40" width="7.0" height="1.2"/><rect x="266.3" y="51.40" width="1.7" height="1.2"/><rect x="268.8" y="51.40" width="3.3" height="1.2"/><rect x="258.6" y="54.73" width="7.0" height="1.2"/><rect x="266.3" y="54.73" width="1.7" height="1.2"/><rect x="268.8" y="54.73" width="3.3" height="1.2"/><rect x="258.6" y="58.07" width="7.0" height="1.2"/><rect x="266.3" y="58.07" width="1.7" height="1.2"/><rect x="268.8" y="58.07" width="3.3" height="1.2"/><rect x="258.6" y="61.40" width="7.0" height="1.2"/><rect x="266.3" y="61.40" width="1.7" height="1.2"/><rect x="268.8" y="61.40" width="3.3" height="1.2"/><rect x="258.6" y="64.73" width="7.0" height="1.2"/><rect x="266.3" y="64.73" width="1.7" height="1.2"/><rect x="268.8" y="64.73" width="3.3" height="1.2"/><rect x="258.6" y="68.07" width="7.0" height="1.2"/><rect x="266.3" y="68.07" width="1.7" height="1.2"/><rect x="268.8" y="68.07" width="3.3" height="1.2"/><rect x="258.6" y="71.40" width="7.0" height="1.2"/><rect x="266.3" y="71.40" width="1.7" height="1.2"/><rect x="268.8" y="71.40" width="3.3" height="1.2"/><rect x="258.6" y="74.73" width="7.0" height="1.2"/><rect x="266.3" y="74.73" width="1.7" height="1.2"/><rect x="268.8" y="74.73" width="3.3" height="1.2"/><rect x="258.6" y="78.07" width="7.0" height="1.2"/><rect x="266.3" y="78.07" width="1.7" height="1.2"/><rect x="268.8" y="78.07" width="3.3" height="1.2"/><rect x="258.6" y="81.40" width="7.0" height="1.2"/><rect x="266.3" y="81.40" width="1.7" height="1.2"/><rect x="268.8" y="81.40" width="3.3" height="1.2"/><rect x="258.6" y="84.73" width="7.0" height="1.2"/><rect x="266.3" y="84.73" width="1.7" height="1.2"/><rect x="268.8" y="84.73" width="3.3" height="1.2"/><rect x="258.6" y="88.07" width="7.0" height="1.2"/><rect x="266.3" y="88.07" width="1.7" height="1.2"/><rect x="268.8" y="88.07" width="3.3" height="1.2"/><rect x="258.6" y="91.40" width="7.0" height="1.2"/><rect x="266.3" y="91.40" width="1.7" height="1.2"/><rect x="268.8" y="91.40" width="3.3" height="1.2"/><rect x="258.6" y="94.73" width="7.0" height="1.2"/><rect x="266.3" y="94.73" width="1.7" height="1.2"/><rect x="268.8" y="94.73" width="3.3" height="1.2"/><rect x="258.6" y="98.07" width="7.0" height="1.2"/><rect x="266.3" y="98.07" width="1.7" height="1.2"/><rect x="268.8" y="98.07" width="3.3" height="1.2"/><rect x="258.6" y="101.40" width="7.0" height="1.2"/><rect x="266.3" y="101.40" width="1.7" height="1.2"/><rect x="268.8" y="101.40" width="3.3" height="1.2"/><rect x="258.6" y="104.73" width="7.0" height="1.2"/><rect x="266.3" y="104.73" width="1.7" height="1.2"/><rect x="268.8" y="104.73" width="3.3" height="1.2"/><rect x="258.6" y="108.07" width="7.0" height="1.2"/><rect x="266.3" y="108.07" width="1.7" height="1.2"/><rect x="268.8" y="108.07" width="3.3" height="1.2"/><rect x="258.6" y="111.40" width="7.0" height="1.2"/><rect x="266.3" y="111.40" width="1.7" height="1.2"/><rect x="268.8" y="111.40" width="3.3" height="1.2"/><rect x="258.6" y="114.73" width="7.0" height="1.2"/><rect x="266.3" y="114.73" width="1.7" height="1.2"/><rect x="268.8" y="114.73" width="3.3" height="1.2"/><rect x="258.6" y="118.07" width="7.0" height="1.2"/><rect x="266.3" y="118.07" width="1.7" height="1.2"/><rect x="268.8" y="118.07" width="3.3" height="1.2"/><rect x="258.6" y="121.40" width="7.0" height="1.2"/><rect x="266.3" y="121.40" width="1.7" height="1.2"/><rect x="268.8" y="121.40" width="3.3" height="1.2"/><rect x="258.6" y="124.73" width="7.0" height="1.2"/><rect x="266.3" y="124.73" width="1.7" height="1.2"/><rect x="268.8" y="124.73" width="3.3" height="1.2"/><rect x="258.6" y="128.07" width="7.0" height="1.2"/><rect x="266.3" y="128.07" width="1.7" height="1.2"/><rect x="268.8" y="128.07" width="3.3" height="1.2"/><rect x="258.6" y="131.40" width="7.0" height="1.2"/><rect x="266.3" y="131.40" width="1.7" height="1.2"/><rect x="268.8" y="131.40" width="3.3" height="1.2"/><rect x="258.6" y="134.73" width="7.0" height="1.2"/><rect x="266.3" y="134.73" width="1.7" height="1.2"/><rect x="268.8" y="134.73" width="3.3" height="1.2"/><rect x="258.6" y="138.07" width="7.0" height="1.2"/><rect x="266.3" y="138.07" width="1.7" height="1.2"/><rect x="268.8" y="138.07" width="3.3" height="1.2"/><rect x="258.6" y="141.40" width="7.0" height="1.2"/><rect x="266.3" y="141.40" width="1.7" height="1.2"/><rect x="268.8" y="141.40" width="3.3" height="1.2"/><rect x="258.6" y="144.73" width="7.0" height="1.2"/><rect x="266.3" y="144.73" width="1.7" height="1.2"/><rect x="268.8" y="144.73" width="3.3" height="1.2"/><rect x="258.6" y="148.07" width="7.0" height="1.2"/><rect x="266.3" y="148.07" width="1.7" height="1.2"/><rect x="268.8" y="148.07" width="3.3" height="1.2"/><rect x="258.6" y="151.40" width="7.0" height="1.2"/><rect x="266.3" y="151.40" width="1.7" height="1.2"/><rect x="268.8" y="151.40" width="3.3" height="1.2"/><rect x="258.6" y="154.73" width="7.0" height="1.2"/><rect x="266.3" y="154.73" width="1.7" height="1.2"/><rect x="268.8" y="154.73" width="3.3" height="1.2"/><rect x="258.6" y="158.07" width="7.0" height="1.2"/><rect x="266.3" y="158.07" width="1.7" height="1.2"/><rect x="268.8" y="158.07" width="3.3" height="1.2"/><rect x="258.6" y="161.40" width="7.0" height="1.2"/><rect x="266.3" y="161.40" width="1.7" height="1.2"/><rect x="268.8" y="161.40" width="3.3" height="1.2"/><rect x="258.6" y="164.73" width="7.0" height="1.2"/><rect x="266.3" y="164.73" width="1.7" height="1.2"/><rect x="268.8" y="164.73" width="3.3" height="1.2"/><rect x="258.6" y="168.07" width="7.0" height="1.2"/><rect x="266.3" y="168.07" width="1.7" height="1.2"/><rect x="268.8" y="168.07" width="3.3" height="1.2"/><rect x="258.6" y="171.40" width="7.0" height="1.2"/><rect x="266.3" y="171.40" width="1.7" height="1.2"/><rect x="268.8" y="171.40" width="3.3" height="1.2"/><rect x="258.6" y="174.73" width="7.0" height="1.2"/><rect x="266.3" y="174.73" width="1.7" height="1.2"/><rect x="268.8" y="174.73" width="3.3" height="1.2"/><rect x="258.6" y="178.07" width="7.0" height="1.2"/><rect x="266.3" y="178.07" width="1.7" height="1.2"/><rect x="268.8" y="178.07" width="3.3" height="1.2"/><rect x="258.6" y="181.40" width="7.0" height="1.2"/><rect x="266.3" y="181.40" width="1.7" height="1.2"/><rect x="268.8" y="181.40" width="3.3" height="1.2"/><rect x="258.6" y="184.73" width="7.0" height="1.2"/><rect x="266.3" y="184.73" width="1.7" height="1.2"/><rect x="268.8" y="184.73" width="3.3" height="1.2"/><rect x="258.6" y="188.07" width="7.0" height="1.2"/><rect x="266.3" y="188.07" width="1.7" height="1.2"/><rect x="268.8" y="188.07" width="3.3" height="1.2"/><rect x="258.6" y="191.40" width="7.0" height="1.2"/><rect x="266.3" y="191.40" width="1.7" height="1.2"/><rect x="268.8" y="191.40" width="3.3" height="1.2"/><rect x="258.6" y="194.73" width="7.0" height="1.2"/><rect x="266.3" y="194.73" width="1.7" height="1.2"/><rect x="268.8" y="194.73" width="3.3" height="1.2"/><rect x="258.6" y="198.07" width="7.0" height="1.2"/><rect x="266.3" y="198.07" width="1.7" height="1.2"/><rect x="268.8" y="198.07" width="3.3" height="1.2"/><rect x="258.6" y="201.40" width="7.0" height="1.2"/><rect x="266.3" y="201.40" width="1.7" height="1.2"/><rect x="268.8" y="201.40" width="3.3" height="1.2"/><rect x="258.6" y="204.73" width="7.0" height="1.2"/><rect x="266.3" y="204.73" width="1.7" height="1.2"/><rect x="268.8" y="204.73" width="3.3" height="1.2"/><rect x="258.6" y="208.07" width="7.0" height="1.2"/><rect x="266.3" y="208.07" width="1.7" height="1.2"/><rect x="268.8" y="208.07" width="3.3" height="1.2"/><rect x="258.6" y="211.40" width="7.0" height="1.2"/><rect x="266.3" y="211.40" width="1.7" height="1.2"/><rect x="268.8" y="211.40" width="3.3" height="1.2"/><rect x="258.6" y="214.73" width="7.0" height="1.2"/><rect x="266.3" y="214.73" width="1.7" height="1.2"/><rect x="268.8" y="214.73" width="3.3" height="1.2"/><rect x="258.6" y="218.07" width="7.0" height="1.2"/><rect x="266.3" y="218.07" width="1.7" height="1.2"/><rect x="268.8" y="218.07" width="3.3" height="1.2"/><rect x="258.6" y="221.40" width="7.0" height="1.2"/><rect x="266.3" y="221.40" width="1.7" height="1.2"/><rect x="268.8" y="221.40" width="3.3" height="1.2"/><rect x="258.6" y="224.73" width="7.0" height="1.2"/><rect x="266.3" y="224.73" width="1.7" height="1.2"/><rect x="268.8" y="224.73" width="3.3" height="1.2"/><rect x="258.6" y="228.07" width="7.0" height="1.2"/><rect x="266.3" y="228.07" width="1.7" height="1.2"/><rect x="268.8" y="228.07" width="3.3" height="1.2"/><rect x="258.6" y="231.40" width="7.0" height="1.2"/><rect x="266.3" y="231.40" width="1.7" height="1.2"/><rect x="268.8" y="231.40" width="3.3" height="1.2"/><rect x="258.6" y="234.73" width="7.0" height="1.2"/><rect x="266.3" y="234.73" width="1.7" height="1.2"/><rect x="268.8" y="234.73" width="3.3" height="1.2"/><rect x="258.6" y="238.07" width="7.0" height="1.2"/><rect x="266.3" y="238.07" width="1.7" height="1.2"/><rect x="268.8" y="238.07" width="3.3" height="1.2"/><rect x="258.6" y="241.40" width="7.0" height="1.2"/><rect x="266.3" y="241.40" width="1.7" height="1.2"/><rect x="268.8" y="241.40" width="3.3" height="1.2"/><rect x="258.6" y="244.73" width="7.0" height="1.2"/><rect x="266.3" y="244.73" width="1.7" height="1.2"/><rect x="268.8" y="244.73" width="3.3" height="1.2"/><rect x="258.6" y="248.07" width="7.0" height="1.2"/><rect x="266.3" y="248.07" width="1.7" height="1.2"/><rect x="268.8" y="248.07" width="3.3" height="1.2"/><rect x="258.6" y="251.40" width="7.0" height="1.2"/><rect x="266.3" y="251.40" width="1.7" height="1.2"/><rect x="268.8" y="251.40" width="3.3" height="1.2"/><rect x="258.6" y="254.73" width="7.0" height="1.2"/><rect x="266.3" y="254.73" width="1.7" height="1.2"/><rect x="268.8" y="254.73" width="3.3" height="1.2"/><rect x="258.6" y="258.07" width="7.0" height="1.2"/><rect x="266.3" y="258.07" width="1.7" height="1.2"/><rect x="268.8" y="258.07" width="3.3" height="1.2"/><rect x="258.6" y="261.40" width="7.0" height="1.2"/><rect x="266.3" y="261.40" width="1.7" height="1.2"/><rect x="268.8" y="261.40" width="3.3" height="1.2"/><rect x="258.6" y="264.73" width="7.0" height="1.2"/><rect x="266.3" y="264.73" width="1.7" height="1.2"/><rect x="268.8" y="264.73" width="3.3" height="1.2"/><rect x="258.6" y="268.07" width="7.0" height="1.2"/><rect x="266.3" y="268.07" width="1.7" height="1.2"/><rect x="268.8" y="268.07" width="3.3" height="1.2"/><rect x="258.6" y="271.40" width="7.0" height="1.2"/><rect x="266.3" y="271.40" width="1.7" height="1.2"/><rect x="268.8" y="271.40" width="3.3" height="1.2"/><rect x="258.6" y="274.73" width="7.0" height="1.2"/><rect x="266.3" y="274.73" width="1.7" height="1.2"/><rect x="268.8" y="274.73" width="3.3" height="1.2"/><rect x="258.6" y="278.07" width="7.0" height="1.2"/><rect x="266.3" y="278.07" width="1.7" height="1.2"/><rect x="268.8" y="278.07" width="3.3" height="1.2"/><rect x="258.6" y="281.40" width="7.0" height="1.2"/><rect x="266.3" y="281.40" width="1.7" height="1.2"/><rect x="268.8" y="281.40" width="3.3" height="1.2"/><rect x="258.6" y="284.73" width="7.0" height="1.2"/><rect x="266.3" y="284.73" width="1.7" height="1.2"/><rect x="268.8" y="284.73" width="3.3" height="1.2"/><rect x="258.6" y="288.07" width="7.0" height="1.2"/><rect x="266.3" y="288.07" width="1.7" height="1.2"/><rect x="268.8" y="288.07" width="3.3" height="1.2"/><rect x="258.6" y="291.40" width="7.0" height="1.2"/><rect x="266.3" y="291.40" width="1.7" height="1.2"/><rect x="268.8" y="291.40" width="3.3" height="1.2"/><rect x="258.6" y="294.73" width="7.0" height="1.2"/><rect x="266.3" y="294.73" width="1.7" height="1.2"/><rect x="268.8" y="294.73" width="3.3" height="1.2"/><rect x="258.6" y="298.07" width="7.0" height="1.2"/><rect x="266.3" y="298.07" width="1.7" height="1.2"/><rect x="268.8" y="298.07" width="3.3" height="1.2"/><rect x="258.6" y="301.40" width="7.0" height="1.2"/><rect x="266.3" y="301.40" width="1.7" height="1.2"/><rect x="268.8" y="301.40" width="3.3" height="1.2"/><rect x="258.6" y="304.73" width="7.0" height="1.2"/><rect x="266.3" y="304.73" width="1.7" height="1.2"/><rect x="268.8" y="304.73" width="3.3" height="1.2"/><rect x="258.6" y="308.07" width="7.0" height="1.2"/><rect x="266.3" y="308.07" width="1.7" height="1.2"/><rect x="268.8" y="308.07" width="3.3" height="1.2"/><rect x="258.6" y="311.40" width="7.0" height="1.2"/><rect x="266.3" y="311.40" width="1.7" height="1.2"/><rect x="268.8" y="311.40" width="3.3" height="1.2"/><rect x="258.6" y="314.73" width="7.0" height="1.2"/><rect x="266.3" y="314.73" width="1.7" height="1.2"/><rect x="268.8" y="314.73" width="3.3" height="1.2"/><rect x="258.6" y="318.07" width="7.0" height="1.2"/><rect x="266.3" y="318.07" width="1.7" height="1.2"/><rect x="268.8" y="318.07" width="3.3" height="1.2"/><rect x="258.6" y="321.40" width="7.0" height="1.2"/><rect x="266.3" y="321.40" width="1.7" height="1.2"/><rect x="268.8" y="321.40" width="3.3" height="1.2"/><rect x="258.6" y="324.73" width="7.0" height="1.2"/><rect x="266.3" y="324.73" width="1.7" height="1.2"/><rect x="268.8" y="324.73" width="3.3" height="1.2"/><rect x="258.6" y="328.07" width="7.0" height="1.2"/><rect x="266.3" y="328.07" width="1.7" height="1.2"/><rect x="268.8" y="328.07" width="3.3" height="1.2"/><rect x="258.6" y="331.40" width="7.0" height="1.2"/><rect x="266.3" y="331.40" width="1.7" height="1.2"/><rect x="268.8" y="331.40" width="3.3" height="1.2"/><rect x="258.6" y="334.73" width="7.0" height="1.2"/><rect x="266.3" y="334.73" width="1.7" height="1.2"/><rect x="268.8" y="334.73" width="3.3" height="1.2"/><rect x="258.6" y="338.07" width="7.0" height="1.2"/><rect x="266.3" y="338.07" width="1.7" height="1.2"/><rect x="268.8" y="338.07" width="3.3" height="1.2"/><rect x="258.6" y="341.40" width="7.0" height="1.2"/><rect x="266.3" y="341.40" width="1.7" height="1.2"/><rect x="268.8" y="341.40" width="3.3" height="1.2"/><rect x="258.6" y="344.73" width="7.0" height="1.2"/><rect x="266.3" y="344.73" width="1.7" height="1.2"/><rect x="268.8" y="344.73" width="3.3" height="1.2"/><rect x="258.6" y="348.07" width="7.0" height="1.2"/><rect x="266.3" y="348.07" width="1.7" height="1.2"/><rect x="268.8" y="348.07" width="3.3" height="1.2"/><rect x="258.6" y="351.40" width="7.0" height="1.2"/><rect x="266.3" y="351.40" width="1.7" height="1.2"/><rect x="268.8" y="351.40" width="3.3" height="1.2"/><rect x="258.6" y="354.73" width="7.0" height="1.2"/><rect x="266.3" y="354.73" width="1.7" height="1.2"/><rect x="268.8" y="354.73" width="3.3" height="1.2"/><rect x="258.6" y="358.07" width="7.0" height="1.2"/><rect x="266.3" y="358.07" width="1.7" height="1.2"/><rect x="268.8" y="358.07" width="3.3" height="1.2"/><rect x="258.6" y="361.40" width="7.0" height="1.2"/><rect x="266.3" y="361.40" width="1.7" height="1.2"/><rect x="268.8" y="361.40" width="3.3" height="1.2"/><rect x="258.6" y="364.73" width="7.0" height="1.2"/><rect x="266.3" y="364.73" width="1.7" height="1.2"/><rect x="268.8" y="364.73" width="3.3" height="1.2"/><rect x="258.6" y="368.07" width="7.0" height="1.2"/><rect x="266.3" y="368.07" width="1.7" height="1.2"/><rect x="268.8" y="368.07" width="3.3" height="1.2"/><rect x="258.6" y="371.40" width="7.0" height="1.2"/><rect x="266.3" y="371.40" width="1.7" height="1.2"/><rect x="268.8" y="371.40" width="3.3" height="1.2"/><rect x="258.6" y="374.73" width="7.0" height="1.2"/><rect x="266.3" y="374.73" width="1.7" height="1.2"/><rect x="268.8" y="374.73" width="3.3" height="1.2"/><rect x="258.6" y="378.07" width="7.0" height="1.2"/><rect x="266.3" y="378.07" width="1.7" height="1.2"/><rect x="268.8" y="378.07" width="3.3" height="1.2"/><rect x="258.6" y="381.40" width="7.0" height="1.2"/><rect x="266.3" y="381.40" width="1.7" height="1.2"/><rect x="268.8" y="381.40" width="3.3" height="1.2"/><rect x="258.6" y="384.73" width="7.0" height="1.2"/><rect x="266.3" y="384.73" width="1.7" height="1.2"/><rect x="268.8" y="384.73" width="3.3" height="1.2"/><rect x="258.6" y="388.07" width="7.0" height="1.2"/><rect x="266.3" y="388.07" width="1.7" height="1.2"/><rect x="268.8" y="388.07" width="3.3" height="1.2"/><rect x="258.6" y="391.40" width="7.0" height="1.2"/><rect x="266.3" y="391.40" width="1.7" height="1.2"/><rect x="268.8" y="391.40" width="3.3" height="1.2"/><rect x="258.6" y="394.73" width="7.0" height="1.2"/><rect x="266.3" y="394.73" width="1.7" height="1.2"/><rect x="268.8" y="394.73" width="3.3" height="1.2"/><rect x="258.6" y="398.07" width="7.0" height="1.2"/><rect x="266.3" y="398.07" width="1.7" height="1.2"/><rect x="268.8" y="398.07" width="3.3" height="1.2"/><rect x="258.6" y="401.40" width="7.0" height="1.2"/><rect x="266.3" y="401.40" width="1.7" height="1.2"/><rect x="268.8" y="401.40" width="3.3" height="1.2"/><rect x="258.6" y="404.73" width="7.0" height="1.2"/><rect x="266.3" y="404.73" width="1.7" height="1.2"/><rect x="268.8" y="404.73" width="3.3" height="1.2"/><rect x="258.6" y="408.07" width="7.0" height="1.2"/><rect x="266.3" y="408.07" width="1.7" height="1.2"/><rect x="268.8" y="408.07" width="3.3" height="1.2"/><rect x="258.6" y="411.40" width="7.0" height="1.2"/><rect x="266.3" y="411.40" width="1.7" height="1.2"/><rect x="268.8" y="411.40" width="3.3" height="1.2"/><rect x="258.6" y="414.73" width="7.0" height="1.2"/><rect x="266.3" y="414.73" width="1.7" height="1.2"/><rect x="268.8" y="414.73" width="3.3" height="1.2"/><rect x="258.6" y="418.07" width="7.0" height="1.2"/><rect x="266.3" y="418.07" width="1.7" height="1.2"/><rect x="268.8" y="418.07" width="3.3" height="1.2"/><rect x="258.6" y="421.40" width="7.0" height="1.2"/><rect x="266.3" y="421.40" width="1.7" height="1.2"/><rect x="268.8" y="421.40" width="3.3" height="1.2"/><rect x="258.6" y="424.73" width="7.0" height="1.2"/><rect x="266.3" y="424.73" width="1.7" height="1.2"/><rect x="268.8" y="424.73" width="3.3" height="1.2"/><rect x="258.6" y="428.07" width="7.0" height="1.2"/><rect x="266.3" y="428.07" width="1.7" height="1.2"/><rect x="268.8" y="428.07" width="3.3" height="1.2"/><rect x="258.6" y="431.40" width="7.0" height="1.2"/><rect x="266.3" y="431.40" width="1.7" height="1.2"/><rect x="268.8" y="431.40" width="3.3" height="1.2"/><rect x="258.6" y="434.73" width="7.0" height="1.2"/><rect x="266.3" y="434.73" width="1.7" height="1.2"/><rect x="268.8" y="434.73" width="3.3" height="1.2"/></g>
<g stroke="#8a8a8a" stroke-width="0.8" fill="none" stroke-linecap="square"><path d="M16.60 17.00V437.00M16.60 17.00H77.00M16.60 437.00H77.00M19.50 24.60V232.50M19.50 24.60H33.50M19.50 232.50H21.50M21.50 159.60V305.60M21.50 159.60H27.60M21.50 305.60H23.90M23.90 258.60V353.00M23.90 258.60H29.20M23.90 353.00H28.60M28.60 321.20V384.60M28.60 321.20H40.50M28.60 384.60H34.40M34.40 368.50V401.00M34.40 368.50H53.40M34.40 401.00H42.30M33.50 18.67V30.60M33.50 18.67H77.00M33.50 30.60H42.00M42.00 23.67V37.60M42.00 23.67H58.40M58.40 22.00V25.34M58.40 22.00H77.00M58.40 25.34H77.00M42.00 37.60H54.00M54.00 31.17V49.30M54.00 31.17H57.90M57.90 28.67V33.67M57.90 28.67H77.00M57.90 33.67H62.50M62.50 32.00V35.34M62.50 32.00H77.00M62.50 35.34H77.00M54.00 38.67H77.00M54.00 49.30H59.20M59.20 43.67V55.60M59.20 43.67H69.40M69.40 42.00V45.34M69.40 42.00H77.00M69.40 45.34H77.00M59.20 55.60H62.90M62.90 48.67V62.50M62.90 48.67H77.00M62.90 62.50H63.90M63.90 52.00V73.00M63.90 52.00H77.00M63.90 73.00H65.80M65.80 55.34V114.30M65.80 55.34H77.00M65.80 60.33H70.40M70.40 58.67V62.00M70.40 58.67H77.00M70.40 62.00H77.00M66.30 65.34V111.00M66.30 65.34H77.00M70.40 60.33V70.40M70.40 70.40H74.30M74.30 68.67V72.00M74.30 68.67H77.00M74.30 72.00H77.00M72.00 75.34V88.10M72.00 75.34H77.00M72.00 88.10H74.10M74.10 78.30V108.00M74.10 78.30H77.00M76.00 82.00H77.00M76.00 85.34H77.00M76.00 88.67H77.00M76.00 92.00H77.00M76.00 95.34H77.00M76.00 98.67H77.00M76.00 102.00H77.00M76.00 105.34H77.00M76.00 108.67H77.00M75.40 82.00V108.67M76.40 85.34V95.34M76.20 98.67V105.34M67.00 112.00H77.00M65.80 114.30H70.10M70.10 115.34V118.67M70.10 115.34H77.00M70.10 118.67H77.00M27.60 136.50V181.50M27.60 136.50H37.50M37.50 127.20V145.75M37.50 127.20H43.30M43.30 122.00V137.00M43.30 122.00H77.00M43.30 127.80H56.50M56.50 125.34V130.33M56.50 125.34H77.00M56.50 130.33H58.00M58.00 128.67V132.00M58.00 128.67H77.00M58.00 132.00H77.00M43.30 137.00H49.90M49.90 135.34V138.67M49.90 135.34H77.00M49.90 138.67H77.00M37.50 145.75H39.00M39.00 142.00V149.60M39.00 142.00H77.00M39.00 149.60H51.40M51.40 145.34V154.10M51.40 145.34H77.00M51.40 154.10H57.20M57.20 150.33V157.80M57.20 150.33H67.40M67.40 148.67V152.00M67.40 148.67H77.00M67.40 152.00H77.00M57.20 157.80H58.60M58.60 155.34V160.33M58.60 155.34H77.00M58.60 160.33H63.80M63.80 158.67V162.00M63.80 158.67H77.00M63.80 162.00H77.00M27.60 181.50H34.00M34.00 170.10V193.00M34.00 170.10H59.30M59.30 167.00V173.67M59.30 167.00H66.20M66.20 165.34V168.67M66.20 165.34H77.00M66.20 168.67H77.00M59.30 173.67H60.40M60.40 172.00V175.34M60.40 172.00H77.00M60.40 175.34H77.00M34.00 193.00H39.50M39.50 182.80V203.60M39.50 182.80H44.90M44.90 178.67V187.00M44.90 178.67H77.00M44.90 187.00H53.00M53.00 183.67V190.33M53.00 183.67H74.80M74.80 182.00V185.33M74.80 182.00H77.00M74.80 185.33H77.00M53.00 190.33H60.40M60.40 188.67V192.00M60.40 188.67H77.00M60.40 192.00H77.00M39.50 203.60H42.10M42.10 197.00V210.50M42.10 197.00H62.50M62.50 195.33V198.67M62.50 195.33H77.00M62.50 198.67H77.00M42.10 210.50H49.50M49.50 204.50V216.50M49.50 204.50H58.70M58.70 202.00V207.00M58.70 202.00H77.00M58.70 207.00H67.10M67.10 205.33V208.67M67.10 205.33H77.00M67.10 208.67H77.00M49.50 216.50H50.70M50.70 212.00V220.00M50.70 212.00H77.00M50.70 220.00H54.70M54.70 215.33V225.70M54.70 215.33H77.00M54.70 225.70H59.30M59.30 221.00V230.33M59.30 221.00H76.20M76.20 218.67V225.33M59.30 230.33H66.80M66.80 228.67V232.00M66.80 228.67H77.00M66.80 232.00H77.00M29.20 244.40V273.20M29.20 244.40H40.50M40.50 238.30V250.30M40.50 238.30H52.40M52.40 235.33V241.20M52.40 235.33H77.00M52.40 241.20H76.30M76.30 238.67V242.00M40.50 250.30H47.50M47.50 248.67V252.00M47.50 248.67H77.00M47.50 252.00H77.00M76.50 245.33V250.30M29.20 273.20H37.30M37.30 263.10V283.40M37.30 263.10H47.30M47.30 257.20V269.00M47.30 257.20H54.50M54.50 255.33V258.67M54.50 255.33H77.00M54.50 258.67H77.00M47.30 269.00H49.50M49.50 264.50V273.50M49.50 264.50H76.30M76.30 262.00V265.33M49.50 273.50H59.10M59.10 272.00V275.33M59.10 272.00H77.00M59.10 275.33H77.00M76.60 268.67V272.00M37.30 283.40H41.40M41.40 280.40V286.80M41.40 280.40H58.20M58.20 278.67V282.00M58.20 278.67H77.00M58.20 282.00H77.00M41.40 286.80H52.30M52.30 285.33V288.67M52.30 285.33H77.00M52.30 288.67H77.00M40.50 300.00V342.40M40.50 300.00H43.20M43.20 292.00V308.30M43.20 292.00H77.00M43.20 308.30H47.30M47.30 300.50V317.40M47.30 300.50H60.00M60.00 295.33V305.30M60.00 295.33H77.00M60.00 305.30H64.10M64.10 301.40V310.00M64.10 301.40H70.00M70.00 298.67V303.60M70.00 298.67H77.00M70.00 303.60H77.00M64.10 310.00H66.40M66.40 308.67V312.00M66.40 308.67H77.00M66.40 312.00H77.00M47.30 317.40H51.80M51.80 315.33V318.67M51.80 315.33H77.00M51.80 318.67H77.00M40.50 342.40H42.30M42.30 328.30V356.80M42.30 328.30H49.80M49.80 322.00V341.50M49.80 322.00H77.00M49.80 327.90H56.80M56.80 325.33V330.50M56.80 325.33H77.00M56.80 330.50H63.60M63.60 328.67V333.67M63.60 328.67H77.00M63.60 333.67H66.80M66.80 332.00V335.33M66.80 332.00H77.00M66.80 335.33H77.00M49.80 341.50H53.20M53.20 338.67V344.50M53.20 338.67H77.00M53.20 344.50H62.30M62.30 342.00V347.00M62.30 342.00H77.00M62.30 347.00H66.40M66.40 345.33V348.67M66.40 345.33H77.00M66.40 348.67H77.00M42.30 356.80H48.20M48.20 353.80V360.30M48.20 353.80H56.40M56.40 352.00V355.33M56.40 352.00H77.00M56.40 355.33H77.00M48.20 360.30H54.50M54.50 358.67V362.00M54.50 358.67H77.00M54.50 362.00H77.00M53.40 365.33V371.60M53.40 365.33H77.00M53.40 371.60H56.40M56.40 368.67V375.30M56.40 368.67H77.00M56.40 375.30H66.40M66.40 372.00V378.50M66.40 372.00H77.00M66.40 378.50H71.40M71.40 375.33V381.50M71.40 375.33H77.00M71.40 381.50H77.00M76.30 378.67V382.00M42.30 391.30V417.50M42.30 391.30H48.20M48.20 388.67V394.50M48.20 388.67H77.00M48.20 394.50H64.50M64.50 392.00V397.20M64.50 392.00H77.00M64.50 397.20H70.90M70.90 395.33V398.67M70.90 395.33H77.00M70.90 398.67H77.00M42.30 403.50H52.30M52.30 402.00V405.33M52.30 402.00H77.00M52.30 405.33H77.00M42.30 417.50H50.50M50.50 411.20V423.90M50.50 411.20H57.30M57.30 408.67V413.50M57.30 408.67H77.00M57.30 413.50H67.30M67.30 412.00V415.33M67.30 412.00H77.00M67.30 415.33H77.00M50.50 423.90H54.50M54.50 418.67V429.80M54.50 418.67H77.00M54.50 429.80H56.00M56.00 424.80V433.67M56.00 424.80H63.60M63.60 422.00V427.10M63.60 422.00H77.00M63.60 427.10H71.80M71.80 425.33V428.67M71.80 425.33H77.00M71.80 428.67H77.00M56.00 433.67H59.10M59.10 432.00V435.33M59.10 432.00H77.00M59.10 435.33H77.00"/></g>
<rect x="276" y="17.9" width="11" height="166.9" fill="url(#cb)"/>
<text x="291.60" y="38.10" font-size="9.60" text-anchor="start" fill="#1a1a1a" stroke="#1a1a1a" stroke-width="0.22" >2</text>
<text x="291.60" y="71.85" font-size="9.60" text-anchor="start" fill="#1a1a1a" stroke="#1a1a1a" stroke-width="0.22" >1</text>
<text x="291.60" y="105.60" font-size="9.60" text-anchor="start" fill="#1a1a1a" stroke="#1a1a1a" stroke-width="0.22" >0</text>
<text x="291.60" y="139.35" font-size="9.60" text-anchor="start" fill="#1a1a1a" stroke="#1a1a1a" stroke-width="0.22" >−1</text>
<text x="291.60" y="173.10" font-size="9.60" text-anchor="start" fill="#1a1a1a" stroke="#1a1a1a" stroke-width="0.22" >−2</text>
<rect x="300.9" y="30.9" width="14.8" height="14.8" fill="#3ebdbe"/>
<rect x="300.9" y="46.9" width="14.8" height="14.9" fill="#f2847e"/>
<text x="317.50" y="42.30" font-size="8.80" text-anchor="start" fill="#1a1a1a" stroke="#1a1a1a" stroke-width="0.22" >Left</text>
<text x="317.50" y="57.70" font-size="8.80" text-anchor="start" fill="#1a1a1a" stroke="#1a1a1a" stroke-width="0.22" >Right</text>
<text x="3.00" y="16.40" font-size="12.80" text-anchor="start" fill="#1a1a1a" stroke="#1a1a1a" stroke-width="0.22" >A</text>
<text x="88.30" y="446.40" font-size="9.00" text-anchor="middle" fill="#1a1a1a" stroke="#1a1a1a" stroke-width="0.22" >Pre</text>
<text x="110.51" y="446.40" font-size="9.00" text-anchor="middle" fill="#1a1a1a" stroke="#1a1a1a" stroke-width="0.22" >Pro</text>
<text x="132.72" y="446.40" font-size="9.00" text-anchor="middle" fill="#1a1a1a" stroke="#1a1a1a" stroke-width="0.22" >Clim</text>
<text x="154.93" y="446.40" font-size="9.00" text-anchor="middle" fill="#1a1a1a" stroke="#1a1a1a" stroke-width="0.22" >Post</text>
<text x="177.14" y="446.40" font-size="9.00" text-anchor="middle" fill="#1a1a1a" stroke="#1a1a1a" stroke-width="0.22" >Pre</text>
<text x="199.35" y="446.40" font-size="9.00" text-anchor="middle" fill="#1a1a1a" stroke="#1a1a1a" stroke-width="0.22" >Pro</text>
<text x="221.56" y="446.40" font-size="9.00" text-anchor="middle" fill="#1a1a1a" stroke="#1a1a1a" stroke-width="0.22" >Clim</text>
<text x="243.77" y="446.40" font-size="9.00" text-anchor="middle" fill="#1a1a1a" stroke="#1a1a1a" stroke-width="0.22" >Post</text>
<text x="339.60" y="16.50" font-size="12.80" text-anchor="start" fill="#1a1a1a" stroke="#1a1a1a" stroke-width="0.22" >B</text>
<text x="372.40" y="15.00" font-size="8.90" text-anchor="start" fill="#1a1a1a" stroke="#1a1a1a" stroke-width="0.22" font-style="italic" >Hipk1</text>
<text x="402.00" y="15.00" font-size="8.9" fill="#1a1a1a" stroke="#1a1a1a" stroke-width="0.22"><tspan font-style="italic">P</tspan>-value = 2.17e−03</text>
<line x1="368" y1="45.00" x2="543.8" y2="45.00" stroke="#dedede" stroke-width="0.9"/>
<text x="366.60" y="48.40" font-size="9.10" text-anchor="end" fill="#4d4d4d" stroke="#4d4d4d" stroke-width="0.22" >0.09</text>
<line x1="368" y1="73.10" x2="543.8" y2="73.10" stroke="#dedede" stroke-width="0.9"/>
<text x="366.60" y="76.50" font-size="9.10" text-anchor="end" fill="#4d4d4d" stroke="#4d4d4d" stroke-width="0.22" >0.06</text>
<line x1="368" y1="101.20" x2="543.8" y2="101.20" stroke="#dedede" stroke-width="0.9"/>
<text x="366.60" y="104.60" font-size="9.10" text-anchor="end" fill="#4d4d4d" stroke="#4d4d4d" stroke-width="0.22" >0.03</text>
<line x1="368" y1="129.30" x2="543.8" y2="129.30" stroke="#dedede" stroke-width="0.9"/>
<text x="366.60" y="132.70" font-size="9.10" text-anchor="end" fill="#4d4d4d" stroke="#4d4d4d" stroke-width="0.22" >0.00</text>
<rect x="408.20" y="128.85" width="16.00" height="0.9" fill="#c8c8c8"/>
<rect x="488.20" y="24.00" width="15.90" height="105.30" fill="#5a5a5f"/>
<text x="416.30" y="143.60" font-size="8.80" text-anchor="middle" fill="#4d4d4d" stroke="#4d4d4d" stroke-width="0.22" >Left</text>
<text x="496.20" y="143.60" font-size="8.80" text-anchor="middle" fill="#4d4d4d" stroke="#4d4d4d" stroke-width="0.22" >Right</text>
<text x="0" y="0" font-size="6.4" fill="#1a1a1a" stroke="#1a1a1a" stroke-width="0.2" text-anchor="middle" transform="translate(343.4 87.80) rotate(-90)">FPKM</text>
<text x="339.60" y="156.20" font-size="12.80" text-anchor="start" fill="#1a1a1a" stroke="#1a1a1a" stroke-width="0.22" >C</text>
<text x="372.40" y="166.60" font-size="8.90" text-anchor="start" fill="#1a1a1a" stroke="#1a1a1a" stroke-width="0.22" font-style="italic" >Nlrc3-like</text>
<text x="419.00" y="166.60" font-size="8.9" fill="#1a1a1a" stroke="#1a1a1a" stroke-width="0.22"><tspan font-style="italic">P</tspan>-value = 5.23e−06</text>
<line x1="368" y1="171.30" x2="543.8" y2="171.30" stroke="#dedede" stroke-width="0.9"/>
<text x="366.60" y="174.70" font-size="9.10" text-anchor="end" fill="#4d4d4d" stroke="#4d4d4d" stroke-width="0.22" >1.00</text>
<line x1="368" y1="199.00" x2="543.8" y2="199.00" stroke="#dedede" stroke-width="0.9"/>
<text x="366.60" y="202.40" font-size="9.10" text-anchor="end" fill="#4d4d4d" stroke="#4d4d4d" stroke-width="0.22" >0.75</text>
<line x1="368" y1="226.70" x2="543.8" y2="226.70" stroke="#dedede" stroke-width="0.9"/>
<text x="366.60" y="230.10" font-size="9.10" text-anchor="end" fill="#4d4d4d" stroke="#4d4d4d" stroke-width="0.22" >0.50</text>
<line x1="368" y1="254.40" x2="543.8" y2="254.40" stroke="#dedede" stroke-width="0.9"/>
<text x="366.60" y="257.80" font-size="9.10" text-anchor="end" fill="#4d4d4d" stroke="#4d4d4d" stroke-width="0.22" >0.25</text>
<line x1="368" y1="282.10" x2="543.8" y2="282.10" stroke="#dedede" stroke-width="0.9"/>
<text x="366.60" y="285.50" font-size="9.10" text-anchor="end" fill="#4d4d4d" stroke="#4d4d4d" stroke-width="0.22" >0.00</text>
<rect x="408.20" y="281.65" width="16.00" height="0.9" fill="#c8c8c8"/>
<rect x="488.20" y="176.40" width="15.90" height="105.70" fill="#5a5a5f"/>
<text x="416.30" y="296.40" font-size="8.80" text-anchor="middle" fill="#4d4d4d" stroke="#4d4d4d" stroke-width="0.22" >Left</text>
<text x="496.20" y="296.40" font-size="8.80" text-anchor="middle" fill="#4d4d4d" stroke="#4d4d4d" stroke-width="0.22" >Right</text>
<text x="0" y="0" font-size="6.4" fill="#1a1a1a" stroke="#1a1a1a" stroke-width="0.2" text-anchor="middle" transform="translate(343.4 232.20) rotate(-90)">FPKM</text>
<text x="339.60" y="326.40" font-size="12.80" text-anchor="start" fill="#1a1a1a" stroke="#1a1a1a" stroke-width="0.22" >D</text>
<text x="373.00" y="319.00" font-size="8.90" text-anchor="start" fill="#1a1a1a" stroke="#1a1a1a" stroke-width="0.22" font-style="italic" >Trim25</text>
<text x="410.00" y="319.00" font-size="8.9" fill="#1a1a1a" stroke="#1a1a1a" stroke-width="0.22"><tspan font-style="italic">P</tspan>-value = 5.47e−03</text>
<line x1="368" y1="346.20" x2="543.8" y2="346.20" stroke="#dedede" stroke-width="0.9"/>
<text x="366.60" y="349.60" font-size="9.10" text-anchor="end" fill="#4d4d4d" stroke="#4d4d4d" stroke-width="0.22" >0.75</text>
<line x1="368" y1="375.40" x2="543.8" y2="375.40" stroke="#dedede" stroke-width="0.9"/>
<text x="366.60" y="378.80" font-size="9.10" text-anchor="end" fill="#4d4d4d" stroke="#4d4d4d" stroke-width="0.22" >0.50</text>
<line x1="368" y1="404.60" x2="543.8" y2="404.60" stroke="#dedede" stroke-width="0.9"/>
<text x="366.60" y="408.00" font-size="9.10" text-anchor="end" fill="#4d4d4d" stroke="#4d4d4d" stroke-width="0.22" >0.25</text>
<line x1="368" y1="433.80" x2="543.8" y2="433.80" stroke="#dedede" stroke-width="0.9"/>
<text x="366.60" y="437.20" font-size="9.10" text-anchor="end" fill="#4d4d4d" stroke="#4d4d4d" stroke-width="0.22" >0.00</text>
<rect x="408.20" y="400.00" width="16.00" height="33.80" fill="#5a5a5f"/>
<rect x="488.20" y="329.00" width="15.90" height="104.80" fill="#5a5a5f"/>
<text x="416.30" y="448.10" font-size="8.80" text-anchor="middle" fill="#4d4d4d" stroke="#4d4d4d" stroke-width="0.22" >Left</text>
<text x="496.20" y="448.10" font-size="8.80" text-anchor="middle" fill="#4d4d4d" stroke="#4d4d4d" stroke-width="0.22" >Right</text>
<text x="0" y="0" font-size="6.4" fill="#1a1a1a" stroke="#1a1a1a" stroke-width="0.2" text-anchor="middle" transform="translate(343.4 378.80) rotate(-90)">FPKM</text>
</svg>
</body></html>
